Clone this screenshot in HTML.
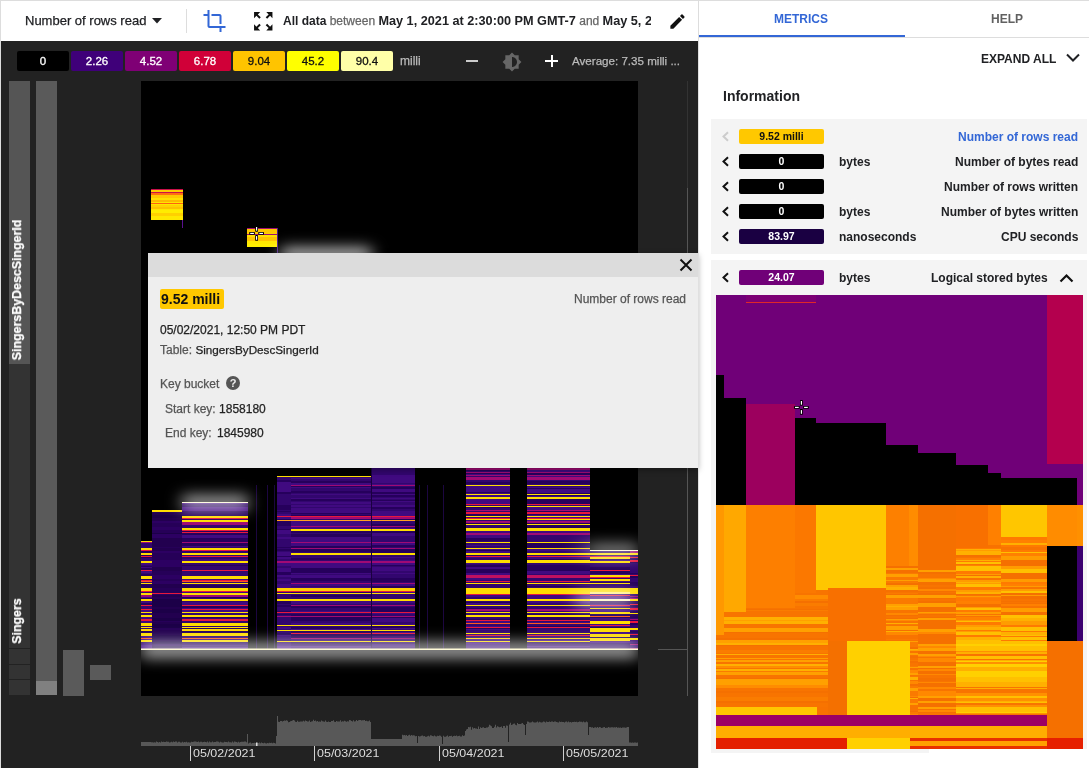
<!DOCTYPE html>
<html><head><meta charset="utf-8">
<style>
*{margin:0;padding:0;box-sizing:border-box}
html,body{width:1089px;height:768px;overflow:hidden;background:#fff;font-family:"Liberation Sans",sans-serif;position:relative}
.a{position:absolute}
.t{position:absolute;white-space:nowrap;will-change:transform;-webkit-text-stroke:0.25px currentColor}
.lg{position:absolute;will-change:transform;top:51px;height:20px;width:52px;border-radius:2px;font-size:11.5px;-webkit-text-stroke:0.3px currentColor;line-height:20px;text-align:center;color:#fff}
.bd{position:absolute;will-change:transform;left:739px;width:85px;height:15px;border-radius:2px;font-size:10.5px;font-weight:bold;line-height:15px;text-align:center;color:#fff}
b,.un,.mn{-webkit-text-stroke:0!important}
.chev{position:absolute;left:721px}
.un{position:absolute;left:839px;font-size:12px;line-height:14px;font-weight:bold;color:#202124}
.mn{position:absolute;right:11px;font-size:12px;line-height:14px;font-weight:bold;color:#202124;text-align:right}
</style></head><body>
<!-- top borders -->
<div class="a" style="left:0;top:0;width:1089px;height:1px;background:#ddd"></div>
<div class="a" style="left:0;top:0;width:1px;height:768px;background:#ddd"></div>
<div class="a" style="left:698px;top:0;width:1px;height:41px;background:#ddd"></div>
<!-- toolbar -->
<div class="t" style="left:25px;top:13px;font-size:13px;color:#202124">Number of rows read</div>
<svg class="a" style="left:152px;top:18px" width="10" height="6"><path d="M0 0H10L5 5.5Z" fill="#202124"/></svg>
<div class="a" style="left:186px;top:9px;width:1px;height:24px;background:#ddd"></div>
<svg class="a" style="left:202px;top:9px" width="25" height="24" viewBox="0 0 24 24"><path d="M17 15h2V7c0-1.1-.9-2-2-2H9v2h8v8zM7 17V1H5v4H1v2h4v10c0 1.1.9 2 2 2h10v4h2v-4h4v-2H7z" fill="#3367d6"/></svg>
<svg class="a" style="left:250.5px;top:8.8px" width="24.5" height="24.5" viewBox="0 0 24 24"><path d="M15 3l2.3 2.3-2.89 2.87 1.42 1.42L18.7 6.7 21 9V3h-6zM3 9l2.3-2.3 2.87 2.89 1.42-1.42L6.7 5.3 9 3H3v6zm6 12l-2.3-2.3 2.89-2.87-1.42-1.42L5.3 17.3 3 15v6h6zm12-6l-2.3 2.3-2.87-2.89-1.42 1.42 2.89 2.87L15 21h6v-6z" fill="#111"/></svg>
<div class="t" style="left:283px;top:14px;font-size:12px;line-height:14px;color:#202124;width:368px;overflow:hidden"><b>All data</b> <span style="color:#666">between</span> <b style="font-size:12.7px">May 1, 2021 at 2:30:00 PM GMT-7</b> <span style="color:#666">and</span> <b style="font-size:12.7px">May 5, 2021 at 2:30:00 PM GMT-7</b></div>
<svg class="a" style="left:668.3px;top:12px" width="19" height="19" viewBox="0 0 24 24"><path d="M3 17.25V21h3.75L17.81 9.94l-3.75-3.75L3 17.25zM20.71 7.04a1 1 0 000-1.41l-2.34-2.34a1 1 0 00-1.41 0l-1.83 1.83 3.75 3.75 1.83-1.83z" fill="#111"/></svg>
<!-- dark panel -->
<div class="a" style="left:1px;top:41px;width:697px;height:727px;background:#222"></div>
<!-- legend -->
<div class="lg" style="left:17px;background:#000">0</div>
<div class="lg" style="left:71px;background:#3f0079">2.26</div>
<div class="lg" style="left:125px;background:#7f0075">4.52</div>
<div class="lg" style="left:179px;background:#d00038">6.78</div>
<div class="lg" style="left:233px;background:#ffc400;color:#111">9.04</div>
<div class="lg" style="left:287px;background:#ffff00;color:#111">45.2</div>
<div class="lg" style="left:341px;background:#ffffa8;color:#111">90.4</div>
<div class="t" style="left:400px;top:54px;font-size:12px;color:#bbb">milli</div>
<div class="a" style="left:466px;top:60px;width:12px;height:2px;background:#ccc"></div>
<svg class="a" style="left:502px;top:52px" width="20" height="20" viewBox="0 0 24 24"><path d="M20 8.69V4h-4.69L12 .69 8.69 4H4v4.69L.69 12 4 15.31V20h4.69L12 23.31 15.31 20H20v-4.69L23.31 12 20 8.69zM12 18V6c3.31 0 6 2.69 6 6s-2.69 6-6 6z" fill="#666"/></svg>
<div class="a" style="left:545px;top:60px;width:13px;height:2px;background:#fff"></div>
<div class="a" style="left:551px;top:55px;width:2px;height:12px;background:#fff"></div>
<div class="t" style="left:572px;top:54px;font-size:11.6px;color:#bbb">Average: 7.35 milli ...</div>
<!-- gutter -->
<div class="a" style="left:9px;top:81px;width:21px;height:283px;background:#555"></div>
<div class="a" style="left:9px;top:364px;width:21px;height:284px;background:#333"></div>
<div class="a" style="left:9px;top:649px;width:21px;height:15px;background:#333"></div>
<div class="a" style="left:9px;top:665px;width:21px;height:14px;background:#333"></div>
<div class="a" style="left:9px;top:680px;width:21px;height:15px;background:#333"></div>
<div class="a" style="left:36px;top:81px;width:21px;height:600px;background:#5a5a5a"></div>
<div class="a" style="left:36px;top:681px;width:21px;height:14px;background:#808080"></div>
<div class="a" style="left:63px;top:650px;width:21px;height:46px;background:#5a5a5a"></div>
<div class="a" style="left:90px;top:665px;width:21px;height:15px;background:#5a5a5a"></div>
<div class="t" style="left:17px;top:289.7px;font-size:12.4px;font-weight:bold;color:#fff;transform:translate(-50%,-50%) rotate(-90deg)">SingersByDescSingerId</div>
<div class="t" style="left:17px;top:620.5px;font-size:12.4px;font-weight:bold;color:#fff;transform:translate(-50%,-50%) rotate(-90deg)">Singers</div>
<!-- heatmap -->
<svg class="a" style="left:141px;top:81px" width="497" height="615" viewBox="141 81 497 615">
<defs>
<filter id="bl" x="-50%" y="-300%" width="200%" height="700%"><feGaussianBlur stdDeviation="8"/></filter>
<radialGradient id="g1"><stop offset="0" stop-color="#fff" stop-opacity=".75"/><stop offset=".5" stop-color="#fff" stop-opacity=".35"/><stop offset="1" stop-color="#fff" stop-opacity="0"/></radialGradient>
<linearGradient id="gb" x1="0" y1="0" x2="0" y2="1"><stop offset="0" stop-color="#fff" stop-opacity=".6"/><stop offset=".35" stop-color="#fff" stop-opacity=".3"/><stop offset="1" stop-color="#fff" stop-opacity="0"/></linearGradient>
<linearGradient id="ga" x1="0" y1="0" x2="0" y2="1"><stop offset="0" stop-color="#fff" stop-opacity="0"/><stop offset="1" stop-color="#fff" stop-opacity=".55"/></linearGradient>
</defs>
<rect x="141" y="81" width="497" height="615" fill="#000"/>
<g shape-rendering="crispEdges"><rect x="151" y="189" width="32" height="31" fill="#ffe400"/>
<rect x="151" y="189" width="32" height="1" fill="#c8104a"/>
<rect x="151" y="190" width="32" height="2" fill="#ffcc00"/>
<rect x="151" y="192" width="32" height="1" fill="#c8104a"/>
<rect x="151" y="193" width="32" height="2" fill="#ff7010"/>
<rect x="151" y="195" width="32" height="3" fill="#ffc800"/>
<rect x="151" y="198" width="32" height="2" fill="#ffe000"/>
<rect x="151" y="200" width="32" height="2" fill="#ffb800"/>
<rect x="151" y="203" width="32" height="1" fill="#ff6010"/>
<rect x="151" y="205" width="32" height="2" fill="#ffd000"/>
<rect x="151" y="207" width="32" height="2" fill="#ffc000"/>
<rect x="151" y="210" width="32" height="3" fill="#ffec00"/>
<rect x="151" y="213" width="32" height="3" fill="#ffd000"/>
<rect x="151" y="216" width="32" height="4" fill="#ffe800"/>
<rect x="182" y="220" width="1" height="8" fill="#5a1090"/>
<rect x="247" y="228" width="31" height="19" fill="#ffd000"/>
<rect x="247" y="228" width="31" height="1" fill="#a01070"/>
<rect x="247" y="229" width="31" height="4" fill="#ffc800"/>
<rect x="247" y="234" width="31" height="1" fill="#a01070"/>
<rect x="247" y="235" width="31" height="2" fill="#ffe000"/>
<rect x="247" y="237" width="31" height="4" fill="#ffc400"/>
<rect x="247" y="241" width="31" height="3" fill="#ffe800"/>
<rect x="247" y="244" width="31" height="3" fill="#ffee00"/>
<rect x="277" y="228" width="0.8" height="25" fill="#4a1a8a"/>
<rect x="141" y="541" width="11" height="1" fill="#400a80"/>
<rect x="141" y="542" width="11" height="1" fill="#32066e"/>
<rect x="141" y="543" width="11" height="1" fill="#32066e"/>
<rect x="141" y="544" width="11" height="2" fill="#32066e"/>
<rect x="141" y="546" width="11" height="4" fill="#32066e"/>
<rect x="141" y="550" width="11" height="1" fill="#26005c"/>
<rect x="141" y="551" width="11" height="2" fill="#26005c"/>
<rect x="141" y="553" width="11" height="2" fill="#32066e"/>
<rect x="141" y="555" width="11" height="3" fill="#26005c"/>
<rect x="141" y="558" width="11" height="4" fill="#32066e"/>
<rect x="141" y="562" width="11" height="2" fill="#400a80"/>
<rect x="141" y="564" width="11" height="1" fill="#400a80"/>
<rect x="141" y="565" width="11" height="1" fill="#32066e"/>
<rect x="141" y="566" width="11" height="1" fill="#26005c"/>
<rect x="141" y="567" width="11" height="1" fill="#400a80"/>
<rect x="141" y="568" width="11" height="3" fill="#26005c"/>
<rect x="141" y="571" width="11" height="2" fill="#400a80"/>
<rect x="141" y="573" width="11" height="1" fill="#32066e"/>
<rect x="141" y="574" width="11" height="4" fill="#26005c"/>
<rect x="141" y="578" width="11" height="3" fill="#26005c"/>
<rect x="141" y="581" width="11" height="2" fill="#32066e"/>
<rect x="141" y="583" width="11" height="3" fill="#26005c"/>
<rect x="141" y="586" width="11" height="2" fill="#26005c"/>
<rect x="141" y="588" width="11" height="4" fill="#26005c"/>
<rect x="141" y="592" width="11" height="2" fill="#32066e"/>
<rect x="141" y="594" width="11" height="1" fill="#32066e"/>
<rect x="141" y="595" width="11" height="3" fill="#400a80"/>
<rect x="141" y="598" width="11" height="1" fill="#26005c"/>
<rect x="141" y="599" width="11" height="4" fill="#400a80"/>
<rect x="141" y="603" width="11" height="2" fill="#26005c"/>
<rect x="141" y="605" width="11" height="4" fill="#32066e"/>
<rect x="141" y="609" width="11" height="4" fill="#400a80"/>
<rect x="141" y="613" width="11" height="3" fill="#32066e"/>
<rect x="141" y="616" width="11" height="3" fill="#400a80"/>
<rect x="141" y="619" width="11" height="1" fill="#32066e"/>
<rect x="141" y="620" width="11" height="2" fill="#400a80"/>
<rect x="141" y="622" width="11" height="2" fill="#400a80"/>
<rect x="141" y="624" width="11" height="2" fill="#400a80"/>
<rect x="141" y="626" width="11" height="1" fill="#32066e"/>
<rect x="141" y="627" width="11" height="1" fill="#400a80"/>
<rect x="141" y="628" width="11" height="2" fill="#32066e"/>
<rect x="141" y="630" width="11" height="4" fill="#26005c"/>
<rect x="141" y="634" width="11" height="2" fill="#400a80"/>
<rect x="141" y="636" width="11" height="4" fill="#400a80"/>
<rect x="141" y="640" width="11" height="4" fill="#32066e"/>
<rect x="141" y="644" width="11" height="1" fill="#32066e"/>
<rect x="141" y="645" width="11" height="4" fill="#400a80"/>
<rect x="141" y="541" width="11" height="1" fill="#ffdd00"/>
<rect x="141" y="542" width="11" height="1" fill="#a00a74"/>
<rect x="141" y="548" width="11" height="1.5" fill="#ffdd00"/>
<rect x="141" y="549.5" width="11" height="1" fill="#e8183c"/>
<rect x="141" y="553" width="11" height="2" fill="#ffdd00"/>
<rect x="141" y="556" width="11" height="1" fill="#e8183c"/>
<rect x="141" y="561" width="11" height="2" fill="#ffdd00"/>
<rect x="141" y="570" width="11" height="1" fill="#e8183c"/>
<rect x="141" y="576" width="11" height="2.5" fill="#ffdd00"/>
<rect x="141" y="579.5" width="11" height="1" fill="#e8183c"/>
<rect x="141" y="581" width="11" height="1" fill="#ff5a1a"/>
<rect x="141" y="583" width="11" height="1" fill="#ffdd00"/>
<rect x="141" y="588" width="11" height="3" fill="#ffdd00"/>
<rect x="141" y="591" width="11" height="1" fill="#e8183c"/>
<rect x="141" y="593" width="11" height="2" fill="#ffdd00"/>
<rect x="141" y="595" width="11" height="2" fill="#a00a74"/>
<rect x="141" y="599" width="11" height="2" fill="#ffdd00"/>
<rect x="141" y="604.5" width="11" height="1.5" fill="#e8183c"/>
<rect x="141" y="609" width="11" height="1" fill="#e8183c"/>
<rect x="141" y="612" width="11" height="1" fill="#ffdd00"/>
<rect x="141" y="615" width="11" height="2" fill="#ffdd00"/>
<rect x="141" y="619" width="11" height="2" fill="#e8183c"/>
<rect x="141" y="623" width="11" height="3" fill="#ffdd00"/>
<rect x="141" y="627" width="11" height="1" fill="#ffdd00"/>
<rect x="141" y="629" width="11" height="1.5" fill="#ffdd00"/>
<rect x="141" y="633" width="11" height="3" fill="#ffdd00"/>
<rect x="141" y="638" width="11" height="1" fill="#ff5a1a"/>
<rect x="141" y="640" width="11" height="2" fill="#ffdd00"/>
<rect x="152" y="510" width="30" height="1" fill="#1c0048"/>
<rect x="152" y="511" width="30" height="1" fill="#260058"/>
<rect x="152" y="512" width="30" height="1" fill="#260058"/>
<rect x="152" y="513" width="30" height="2" fill="#22004f"/>
<rect x="152" y="515" width="30" height="3" fill="#1c0048"/>
<rect x="152" y="518" width="30" height="3" fill="#22004f"/>
<rect x="152" y="521" width="30" height="2" fill="#2c0062"/>
<rect x="152" y="523" width="30" height="4" fill="#260058"/>
<rect x="152" y="527" width="30" height="3" fill="#2c0062"/>
<rect x="152" y="530" width="30" height="3" fill="#260058"/>
<rect x="152" y="533" width="30" height="1" fill="#1c0048"/>
<rect x="152" y="534" width="30" height="2" fill="#2c0062"/>
<rect x="152" y="536" width="30" height="2" fill="#2c0062"/>
<rect x="152" y="538" width="30" height="2" fill="#22004f"/>
<rect x="152" y="540" width="30" height="3" fill="#22004f"/>
<rect x="152" y="543" width="30" height="1" fill="#22004f"/>
<rect x="152" y="544" width="30" height="1" fill="#22004f"/>
<rect x="152" y="545" width="30" height="2" fill="#22004f"/>
<rect x="152" y="547" width="30" height="1" fill="#260058"/>
<rect x="152" y="548" width="30" height="3" fill="#22004f"/>
<rect x="152" y="551" width="30" height="2" fill="#2c0062"/>
<rect x="152" y="553" width="30" height="4" fill="#260058"/>
<rect x="152" y="557" width="30" height="3" fill="#260058"/>
<rect x="152" y="560" width="30" height="2" fill="#2c0062"/>
<rect x="152" y="562" width="30" height="1" fill="#2c0062"/>
<rect x="152" y="563" width="30" height="4" fill="#2c0062"/>
<rect x="152" y="567" width="30" height="4" fill="#22004f"/>
<rect x="152" y="571" width="30" height="2" fill="#260058"/>
<rect x="152" y="573" width="30" height="2" fill="#260058"/>
<rect x="152" y="575" width="30" height="4" fill="#2c0062"/>
<rect x="152" y="579" width="30" height="2" fill="#260058"/>
<rect x="152" y="581" width="30" height="3" fill="#2c0062"/>
<rect x="152" y="584" width="30" height="2" fill="#22004f"/>
<rect x="152" y="586" width="30" height="2" fill="#22004f"/>
<rect x="152" y="588" width="30" height="3" fill="#260058"/>
<rect x="152" y="591" width="30" height="2" fill="#260058"/>
<rect x="152" y="593" width="30" height="2" fill="#2c0062"/>
<rect x="152" y="595" width="30" height="2" fill="#22004f"/>
<rect x="152" y="597" width="30" height="2" fill="#260058"/>
<rect x="152" y="599" width="30" height="4" fill="#1c0048"/>
<rect x="152" y="603" width="30" height="2" fill="#1c0048"/>
<rect x="152" y="605" width="30" height="1" fill="#1c0048"/>
<rect x="152" y="606" width="30" height="1" fill="#1c0048"/>
<rect x="152" y="607" width="30" height="2" fill="#22004f"/>
<rect x="152" y="609" width="30" height="4" fill="#1c0048"/>
<rect x="152" y="613" width="30" height="3" fill="#22004f"/>
<rect x="152" y="616" width="30" height="2" fill="#22004f"/>
<rect x="152" y="618" width="30" height="1" fill="#1c0048"/>
<rect x="152" y="619" width="30" height="2" fill="#1c0048"/>
<rect x="152" y="621" width="30" height="1" fill="#260058"/>
<rect x="152" y="622" width="30" height="2" fill="#22004f"/>
<rect x="152" y="624" width="30" height="1" fill="#1c0048"/>
<rect x="152" y="625" width="30" height="1" fill="#1c0048"/>
<rect x="152" y="626" width="30" height="1" fill="#1c0048"/>
<rect x="152" y="627" width="30" height="1" fill="#1c0048"/>
<rect x="152" y="628" width="30" height="2" fill="#260058"/>
<rect x="152" y="630" width="30" height="1" fill="#22004f"/>
<rect x="152" y="631" width="30" height="4" fill="#22004f"/>
<rect x="152" y="635" width="30" height="3" fill="#1c0048"/>
<rect x="152" y="638" width="30" height="2" fill="#1c0048"/>
<rect x="152" y="640" width="30" height="1" fill="#22004f"/>
<rect x="152" y="641" width="30" height="1" fill="#1c0048"/>
<rect x="152" y="642" width="30" height="2" fill="#1c0048"/>
<rect x="152" y="644" width="30" height="2" fill="#260058"/>
<rect x="152" y="646" width="30" height="2" fill="#1c0048"/>
<rect x="152" y="648" width="30" height="1" fill="#2c0062"/>
<rect x="152" y="510" width="30" height="2" fill="#ffdd00"/>
<rect x="152" y="593" width="30" height="1" fill="#e8183c"/>
<rect x="182" y="503" width="66" height="1" fill="#400a80"/>
<rect x="182" y="504" width="66" height="3" fill="#26005c"/>
<rect x="182" y="507" width="66" height="2" fill="#400a80"/>
<rect x="182" y="509" width="66" height="2" fill="#400a80"/>
<rect x="182" y="511" width="66" height="3" fill="#26005c"/>
<rect x="182" y="514" width="66" height="3" fill="#26005c"/>
<rect x="182" y="517" width="66" height="2" fill="#32066e"/>
<rect x="182" y="519" width="66" height="3" fill="#26005c"/>
<rect x="182" y="522" width="66" height="1" fill="#400a80"/>
<rect x="182" y="523" width="66" height="2" fill="#400a80"/>
<rect x="182" y="525" width="66" height="3" fill="#32066e"/>
<rect x="182" y="528" width="66" height="2" fill="#400a80"/>
<rect x="182" y="530" width="66" height="1" fill="#26005c"/>
<rect x="182" y="531" width="66" height="4" fill="#26005c"/>
<rect x="182" y="535" width="66" height="3" fill="#32066e"/>
<rect x="182" y="538" width="66" height="4" fill="#26005c"/>
<rect x="182" y="542" width="66" height="4" fill="#26005c"/>
<rect x="182" y="546" width="66" height="1" fill="#400a80"/>
<rect x="182" y="547" width="66" height="1" fill="#32066e"/>
<rect x="182" y="548" width="66" height="1" fill="#32066e"/>
<rect x="182" y="549" width="66" height="2" fill="#400a80"/>
<rect x="182" y="551" width="66" height="4" fill="#32066e"/>
<rect x="182" y="555" width="66" height="4" fill="#32066e"/>
<rect x="182" y="559" width="66" height="2" fill="#400a80"/>
<rect x="182" y="561" width="66" height="3" fill="#32066e"/>
<rect x="182" y="564" width="66" height="1" fill="#32066e"/>
<rect x="182" y="565" width="66" height="1" fill="#26005c"/>
<rect x="182" y="566" width="66" height="1" fill="#32066e"/>
<rect x="182" y="567" width="66" height="1" fill="#32066e"/>
<rect x="182" y="568" width="66" height="4" fill="#32066e"/>
<rect x="182" y="572" width="66" height="4" fill="#32066e"/>
<rect x="182" y="576" width="66" height="2" fill="#400a80"/>
<rect x="182" y="578" width="66" height="2" fill="#400a80"/>
<rect x="182" y="580" width="66" height="2" fill="#400a80"/>
<rect x="182" y="582" width="66" height="3" fill="#32066e"/>
<rect x="182" y="585" width="66" height="3" fill="#26005c"/>
<rect x="182" y="588" width="66" height="2" fill="#400a80"/>
<rect x="182" y="590" width="66" height="1" fill="#32066e"/>
<rect x="182" y="591" width="66" height="3" fill="#400a80"/>
<rect x="182" y="594" width="66" height="4" fill="#26005c"/>
<rect x="182" y="598" width="66" height="4" fill="#32066e"/>
<rect x="182" y="602" width="66" height="3" fill="#400a80"/>
<rect x="182" y="605" width="66" height="3" fill="#26005c"/>
<rect x="182" y="608" width="66" height="4" fill="#400a80"/>
<rect x="182" y="612" width="66" height="1" fill="#400a80"/>
<rect x="182" y="613" width="66" height="3" fill="#32066e"/>
<rect x="182" y="616" width="66" height="2" fill="#26005c"/>
<rect x="182" y="618" width="66" height="1" fill="#32066e"/>
<rect x="182" y="619" width="66" height="4" fill="#32066e"/>
<rect x="182" y="623" width="66" height="1" fill="#32066e"/>
<rect x="182" y="624" width="66" height="1" fill="#32066e"/>
<rect x="182" y="625" width="66" height="1" fill="#26005c"/>
<rect x="182" y="626" width="66" height="2" fill="#32066e"/>
<rect x="182" y="628" width="66" height="2" fill="#26005c"/>
<rect x="182" y="630" width="66" height="1" fill="#400a80"/>
<rect x="182" y="631" width="66" height="3" fill="#26005c"/>
<rect x="182" y="634" width="66" height="2" fill="#400a80"/>
<rect x="182" y="636" width="66" height="3" fill="#32066e"/>
<rect x="182" y="639" width="66" height="3" fill="#32066e"/>
<rect x="182" y="642" width="66" height="3" fill="#26005c"/>
<rect x="182" y="645" width="66" height="1" fill="#32066e"/>
<rect x="182" y="646" width="66" height="1" fill="#26005c"/>
<rect x="182" y="647" width="66" height="1" fill="#400a80"/>
<rect x="182" y="648" width="66" height="1" fill="#26005c"/>
<rect x="182" y="516" width="66" height="1.5" fill="#ffdd00"/>
<rect x="182" y="518" width="66" height="1" fill="#e8183c"/>
<rect x="182" y="520" width="66" height="1.5" fill="#ffdd00"/>
<rect x="182" y="522" width="66" height="3" fill="#a00a74"/>
<rect x="182" y="528" width="66" height="1.5" fill="#ffdd00"/>
<rect x="182" y="529.5" width="66" height="1" fill="#e8183c"/>
<rect x="182" y="532" width="66" height="1" fill="#e8183c"/>
<rect x="182" y="535" width="66" height="3" fill="#400a80"/>
<rect x="182" y="542" width="66" height="1" fill="#a00a74"/>
<rect x="182" y="548" width="66" height="1.5" fill="#ffdd00"/>
<rect x="182" y="549.5" width="66" height="1" fill="#e8183c"/>
<rect x="182" y="553" width="66" height="2" fill="#ffdd00"/>
<rect x="182" y="556" width="66" height="1" fill="#e8183c"/>
<rect x="182" y="561" width="66" height="2" fill="#ffdd00"/>
<rect x="182" y="570" width="66" height="1" fill="#e8183c"/>
<rect x="182" y="576" width="66" height="2.5" fill="#ffdd00"/>
<rect x="182" y="579.5" width="66" height="1" fill="#e8183c"/>
<rect x="182" y="581" width="66" height="1" fill="#ff5a1a"/>
<rect x="182" y="583" width="66" height="1" fill="#ffdd00"/>
<rect x="182" y="588" width="66" height="3" fill="#ffdd00"/>
<rect x="182" y="591" width="66" height="1" fill="#e8183c"/>
<rect x="182" y="593" width="66" height="2" fill="#ffdd00"/>
<rect x="182" y="595" width="66" height="2" fill="#a00a74"/>
<rect x="182" y="599" width="66" height="2" fill="#ffdd00"/>
<rect x="182" y="604.5" width="66" height="1.5" fill="#e8183c"/>
<rect x="182" y="609" width="66" height="1" fill="#e8183c"/>
<rect x="182" y="612" width="66" height="1" fill="#ffdd00"/>
<rect x="182" y="615" width="66" height="2" fill="#ffdd00"/>
<rect x="182" y="619" width="66" height="2" fill="#e8183c"/>
<rect x="182" y="623" width="66" height="3" fill="#ffdd00"/>
<rect x="182" y="627" width="66" height="1" fill="#ffdd00"/>
<rect x="182" y="629" width="66" height="1.5" fill="#ffdd00"/>
<rect x="182" y="633" width="66" height="3" fill="#ffdd00"/>
<rect x="182" y="638" width="66" height="1" fill="#ff5a1a"/>
<rect x="182" y="640" width="66" height="2" fill="#ffdd00"/>
<rect x="182" y="502" width="66" height="1" fill="#fffbd0"/>
<rect x="277" y="477" width="94" height="1" fill="#32066e"/>
<rect x="277" y="478" width="94" height="1" fill="#400a80"/>
<rect x="277" y="479" width="94" height="2" fill="#32066e"/>
<rect x="277" y="481" width="94" height="1" fill="#26005c"/>
<rect x="277" y="482" width="94" height="1" fill="#26005c"/>
<rect x="277" y="483" width="94" height="2" fill="#400a80"/>
<rect x="277" y="485" width="94" height="2" fill="#26005c"/>
<rect x="277" y="487" width="94" height="1" fill="#400a80"/>
<rect x="277" y="488" width="94" height="3" fill="#32066e"/>
<rect x="277" y="491" width="94" height="2" fill="#26005c"/>
<rect x="277" y="493" width="94" height="1" fill="#32066e"/>
<rect x="277" y="494" width="94" height="1" fill="#26005c"/>
<rect x="277" y="495" width="94" height="4" fill="#32066e"/>
<rect x="277" y="499" width="94" height="2" fill="#26005c"/>
<rect x="277" y="501" width="94" height="1" fill="#32066e"/>
<rect x="277" y="502" width="94" height="2" fill="#400a80"/>
<rect x="277" y="504" width="94" height="4" fill="#32066e"/>
<rect x="277" y="508" width="94" height="1" fill="#400a80"/>
<rect x="277" y="509" width="94" height="2" fill="#400a80"/>
<rect x="277" y="511" width="94" height="2" fill="#400a80"/>
<rect x="277" y="513" width="94" height="1" fill="#26005c"/>
<rect x="277" y="514" width="94" height="1" fill="#32066e"/>
<rect x="277" y="515" width="94" height="2" fill="#26005c"/>
<rect x="277" y="517" width="94" height="3" fill="#32066e"/>
<rect x="277" y="520" width="94" height="1" fill="#32066e"/>
<rect x="277" y="521" width="94" height="3" fill="#400a80"/>
<rect x="277" y="524" width="94" height="2" fill="#400a80"/>
<rect x="277" y="526" width="94" height="1" fill="#32066e"/>
<rect x="277" y="527" width="94" height="2" fill="#400a80"/>
<rect x="277" y="529" width="94" height="2" fill="#32066e"/>
<rect x="277" y="531" width="94" height="2" fill="#26005c"/>
<rect x="277" y="533" width="94" height="1" fill="#32066e"/>
<rect x="277" y="534" width="94" height="2" fill="#26005c"/>
<rect x="277" y="536" width="94" height="1" fill="#26005c"/>
<rect x="277" y="537" width="94" height="2" fill="#400a80"/>
<rect x="277" y="539" width="94" height="2" fill="#400a80"/>
<rect x="277" y="541" width="94" height="3" fill="#400a80"/>
<rect x="277" y="544" width="94" height="2" fill="#400a80"/>
<rect x="277" y="546" width="94" height="2" fill="#26005c"/>
<rect x="277" y="548" width="94" height="4" fill="#26005c"/>
<rect x="277" y="552" width="94" height="1" fill="#32066e"/>
<rect x="277" y="553" width="94" height="1" fill="#400a80"/>
<rect x="277" y="554" width="94" height="4" fill="#32066e"/>
<rect x="277" y="558" width="94" height="2" fill="#26005c"/>
<rect x="277" y="560" width="94" height="2" fill="#32066e"/>
<rect x="277" y="562" width="94" height="4" fill="#400a80"/>
<rect x="277" y="566" width="94" height="2" fill="#400a80"/>
<rect x="277" y="568" width="94" height="3" fill="#26005c"/>
<rect x="277" y="571" width="94" height="2" fill="#26005c"/>
<rect x="277" y="573" width="94" height="1" fill="#400a80"/>
<rect x="277" y="574" width="94" height="1" fill="#32066e"/>
<rect x="277" y="575" width="94" height="3" fill="#400a80"/>
<rect x="277" y="578" width="94" height="1" fill="#26005c"/>
<rect x="277" y="579" width="94" height="2" fill="#26005c"/>
<rect x="277" y="581" width="94" height="2" fill="#32066e"/>
<rect x="277" y="583" width="94" height="1" fill="#26005c"/>
<rect x="277" y="584" width="94" height="2" fill="#400a80"/>
<rect x="277" y="586" width="94" height="1" fill="#32066e"/>
<rect x="277" y="587" width="94" height="4" fill="#400a80"/>
<rect x="277" y="591" width="94" height="2" fill="#26005c"/>
<rect x="277" y="593" width="94" height="2" fill="#32066e"/>
<rect x="277" y="595" width="94" height="2" fill="#26005c"/>
<rect x="277" y="597" width="94" height="4" fill="#32066e"/>
<rect x="277" y="601" width="94" height="3" fill="#400a80"/>
<rect x="277" y="604" width="94" height="1" fill="#32066e"/>
<rect x="277" y="605" width="94" height="3" fill="#26005c"/>
<rect x="277" y="608" width="94" height="2" fill="#32066e"/>
<rect x="277" y="610" width="94" height="1" fill="#32066e"/>
<rect x="277" y="611" width="94" height="2" fill="#400a80"/>
<rect x="277" y="613" width="94" height="1" fill="#32066e"/>
<rect x="277" y="614" width="94" height="3" fill="#26005c"/>
<rect x="277" y="617" width="94" height="2" fill="#26005c"/>
<rect x="277" y="619" width="94" height="2" fill="#26005c"/>
<rect x="277" y="621" width="94" height="2" fill="#32066e"/>
<rect x="277" y="623" width="94" height="2" fill="#400a80"/>
<rect x="277" y="625" width="94" height="1" fill="#32066e"/>
<rect x="277" y="626" width="94" height="1" fill="#32066e"/>
<rect x="277" y="627" width="94" height="1" fill="#26005c"/>
<rect x="277" y="628" width="94" height="1" fill="#26005c"/>
<rect x="277" y="629" width="94" height="1" fill="#400a80"/>
<rect x="277" y="630" width="94" height="1" fill="#400a80"/>
<rect x="277" y="631" width="94" height="4" fill="#26005c"/>
<rect x="277" y="635" width="94" height="3" fill="#26005c"/>
<rect x="277" y="638" width="94" height="3" fill="#32066e"/>
<rect x="277" y="641" width="94" height="3" fill="#26005c"/>
<rect x="277" y="644" width="94" height="2" fill="#26005c"/>
<rect x="277" y="646" width="94" height="1" fill="#400a80"/>
<rect x="277" y="647" width="94" height="2" fill="#32066e"/>
<rect x="277" y="485" width="94" height="1" fill="#a00a74"/>
<rect x="277" y="494" width="94" height="1" fill="#400a80"/>
<rect x="277" y="498" width="94" height="1" fill="#400a80"/>
<rect x="277" y="505" width="94" height="2" fill="#400a80"/>
<rect x="277" y="516" width="94" height="1" fill="#e8183c"/>
<rect x="277" y="517" width="94" height="2" fill="#a00a74"/>
<rect x="277" y="520" width="94" height="1" fill="#ffa020"/>
<rect x="277" y="526" width="94" height="1" fill="#a00a74"/>
<rect x="277" y="529" width="94" height="2" fill="#ffdd00"/>
<rect x="277" y="542" width="94" height="1" fill="#a00a74"/>
<rect x="277" y="548" width="94" height="1" fill="#a00a74"/>
<rect x="277" y="553" width="94" height="2" fill="#ffdd00"/>
<rect x="277" y="560.5" width="94" height="2" fill="#a00a74"/>
<rect x="277" y="583" width="94" height="1" fill="#a00a74"/>
<rect x="277" y="588" width="94" height="3" fill="#ffd000"/>
<rect x="277" y="591" width="94" height="1" fill="#e8183c"/>
<rect x="277" y="593" width="94" height="1" fill="#ffdd00"/>
<rect x="277" y="599" width="94" height="2" fill="#ffdd00"/>
<rect x="277" y="605" width="94" height="1" fill="#a00a74"/>
<rect x="277" y="612" width="94" height="1" fill="#e8183c"/>
<rect x="277" y="615.5" width="94" height="1.5" fill="#a00a74"/>
<rect x="277" y="625" width="94" height="1" fill="#ffdd00"/>
<rect x="277" y="630" width="94" height="1" fill="#ffdd00"/>
<rect x="277" y="633" width="94" height="1" fill="#e8183c"/>
<rect x="277" y="638" width="94" height="1" fill="#a00a74"/>
<rect x="277" y="641" width="94" height="1" fill="#ffdd00"/>
<rect x="277" y="477" width="14" height="1" fill="#32066e"/>
<rect x="277" y="478" width="14" height="2" fill="#32066e"/>
<rect x="277" y="480" width="14" height="2" fill="#26005c"/>
<rect x="277" y="482" width="14" height="4" fill="#400a80"/>
<rect x="277" y="486" width="14" height="2" fill="#400a80"/>
<rect x="277" y="488" width="14" height="4" fill="#400a80"/>
<rect x="277" y="492" width="14" height="2" fill="#26005c"/>
<rect x="277" y="494" width="14" height="2" fill="#32066e"/>
<rect x="277" y="496" width="14" height="2" fill="#32066e"/>
<rect x="277" y="498" width="14" height="2" fill="#32066e"/>
<rect x="277" y="500" width="14" height="4" fill="#32066e"/>
<rect x="277" y="504" width="14" height="1" fill="#32066e"/>
<rect x="277" y="505" width="14" height="1" fill="#26005c"/>
<rect x="277" y="506" width="14" height="4" fill="#26005c"/>
<rect x="277" y="510" width="14" height="1" fill="#32066e"/>
<rect x="277" y="511" width="14" height="1" fill="#26005c"/>
<rect x="277" y="512" width="14" height="2" fill="#32066e"/>
<rect x="277" y="514" width="14" height="2" fill="#400a80"/>
<rect x="277" y="516" width="14" height="3" fill="#400a80"/>
<rect x="277" y="519" width="14" height="3" fill="#26005c"/>
<rect x="277" y="522" width="14" height="4" fill="#26005c"/>
<rect x="277" y="526" width="14" height="3" fill="#32066e"/>
<rect x="277" y="529" width="14" height="1" fill="#26005c"/>
<rect x="277" y="530" width="14" height="4" fill="#400a80"/>
<rect x="277" y="534" width="14" height="3" fill="#32066e"/>
<rect x="277" y="537" width="14" height="2" fill="#400a80"/>
<rect x="277" y="539" width="14" height="3" fill="#32066e"/>
<rect x="277" y="542" width="14" height="2" fill="#32066e"/>
<rect x="277" y="544" width="14" height="3" fill="#32066e"/>
<rect x="277" y="547" width="14" height="1" fill="#26005c"/>
<rect x="277" y="548" width="14" height="1" fill="#32066e"/>
<rect x="277" y="549" width="14" height="2" fill="#26005c"/>
<rect x="277" y="551" width="14" height="1" fill="#32066e"/>
<rect x="277" y="552" width="14" height="4" fill="#400a80"/>
<rect x="277" y="556" width="14" height="1" fill="#26005c"/>
<rect x="277" y="557" width="14" height="2" fill="#400a80"/>
<rect x="277" y="559" width="14" height="4" fill="#32066e"/>
<rect x="277" y="563" width="14" height="3" fill="#400a80"/>
<rect x="277" y="566" width="14" height="2" fill="#32066e"/>
<rect x="277" y="568" width="14" height="2" fill="#400a80"/>
<rect x="277" y="570" width="14" height="2" fill="#400a80"/>
<rect x="277" y="572" width="14" height="3" fill="#26005c"/>
<rect x="277" y="575" width="14" height="2" fill="#400a80"/>
<rect x="277" y="577" width="14" height="2" fill="#32066e"/>
<rect x="277" y="579" width="14" height="2" fill="#400a80"/>
<rect x="277" y="581" width="14" height="1" fill="#32066e"/>
<rect x="277" y="582" width="14" height="2" fill="#32066e"/>
<rect x="277" y="584" width="14" height="3" fill="#400a80"/>
<rect x="277" y="587" width="14" height="1" fill="#400a80"/>
<rect x="277" y="588" width="14" height="2" fill="#26005c"/>
<rect x="277" y="590" width="14" height="2" fill="#32066e"/>
<rect x="277" y="592" width="14" height="2" fill="#32066e"/>
<rect x="277" y="594" width="14" height="2" fill="#32066e"/>
<rect x="277" y="596" width="14" height="3" fill="#32066e"/>
<rect x="277" y="599" width="14" height="1" fill="#400a80"/>
<rect x="277" y="600" width="14" height="2" fill="#26005c"/>
<rect x="277" y="602" width="14" height="2" fill="#26005c"/>
<rect x="277" y="604" width="14" height="1" fill="#32066e"/>
<rect x="277" y="605" width="14" height="2" fill="#26005c"/>
<rect x="277" y="607" width="14" height="1" fill="#32066e"/>
<rect x="277" y="608" width="14" height="3" fill="#32066e"/>
<rect x="277" y="611" width="14" height="2" fill="#26005c"/>
<rect x="277" y="613" width="14" height="1" fill="#32066e"/>
<rect x="277" y="614" width="14" height="1" fill="#26005c"/>
<rect x="277" y="615" width="14" height="1" fill="#32066e"/>
<rect x="277" y="616" width="14" height="3" fill="#32066e"/>
<rect x="277" y="619" width="14" height="1" fill="#32066e"/>
<rect x="277" y="620" width="14" height="1" fill="#32066e"/>
<rect x="277" y="621" width="14" height="2" fill="#32066e"/>
<rect x="277" y="623" width="14" height="1" fill="#32066e"/>
<rect x="277" y="624" width="14" height="3" fill="#32066e"/>
<rect x="277" y="627" width="14" height="2" fill="#400a80"/>
<rect x="277" y="629" width="14" height="2" fill="#32066e"/>
<rect x="277" y="631" width="14" height="2" fill="#32066e"/>
<rect x="277" y="633" width="14" height="2" fill="#26005c"/>
<rect x="277" y="635" width="14" height="1" fill="#400a80"/>
<rect x="277" y="636" width="14" height="2" fill="#32066e"/>
<rect x="277" y="638" width="14" height="1" fill="#32066e"/>
<rect x="277" y="639" width="14" height="1" fill="#32066e"/>
<rect x="277" y="640" width="14" height="1" fill="#26005c"/>
<rect x="277" y="641" width="14" height="4" fill="#32066e"/>
<rect x="277" y="645" width="14" height="1" fill="#32066e"/>
<rect x="277" y="646" width="14" height="2" fill="#400a80"/>
<rect x="277" y="648" width="14" height="1" fill="#400a80"/>
<rect x="277" y="476" width="94" height="1" fill="#ffe000"/>
<rect x="291" y="529" width="80" height="2" fill="#ffdd00"/>
<rect x="291" y="553" width="80" height="2" fill="#ffdd00"/>
<rect x="291" y="588" width="80" height="3" fill="#ffd000"/>
<rect x="291" y="593" width="80" height="1" fill="#ffdd00"/>
<rect x="291" y="599" width="80" height="2" fill="#ffdd00"/>
<rect x="291" y="625" width="80" height="1" fill="#ffdd00"/>
<rect x="291" y="630" width="80" height="1" fill="#ffdd00"/>
<rect x="291" y="641" width="80" height="1" fill="#ffdd00"/>
<rect x="277" y="516" width="14" height="1" fill="#e8183c"/>
<rect x="277" y="520" width="14" height="1" fill="#ffa020"/>
<rect x="277" y="560.5" width="14" height="2" fill="#a00a74"/>
<rect x="277" y="588" width="14" height="3" fill="#ffd000"/>
<rect x="277" y="591" width="14" height="1" fill="#e8183c"/>
<rect x="277" y="593" width="14" height="1" fill="#ffdd00"/>
<rect x="277" y="599" width="14" height="2" fill="#ffdd00"/>
<rect x="277" y="612" width="14" height="1" fill="#e8183c"/>
<rect x="277" y="615.5" width="14" height="1.5" fill="#a00a74"/>
<rect x="277" y="625" width="14" height="1" fill="#ffdd00"/>
<rect x="277" y="630" width="14" height="1" fill="#ffdd00"/>
<rect x="277" y="641" width="14" height="1" fill="#ffdd00"/>
<rect x="371" y="468" width="44" height="3" fill="#32066e"/>
<rect x="371" y="471" width="44" height="4" fill="#32066e"/>
<rect x="371" y="475" width="44" height="4" fill="#400a80"/>
<rect x="371" y="479" width="44" height="4" fill="#400a80"/>
<rect x="371" y="483" width="44" height="1" fill="#32066e"/>
<rect x="371" y="484" width="44" height="1" fill="#400a80"/>
<rect x="371" y="485" width="44" height="1" fill="#26005c"/>
<rect x="371" y="486" width="44" height="1" fill="#32066e"/>
<rect x="371" y="487" width="44" height="2" fill="#26005c"/>
<rect x="371" y="489" width="44" height="2" fill="#400a80"/>
<rect x="371" y="491" width="44" height="1" fill="#400a80"/>
<rect x="371" y="492" width="44" height="1" fill="#26005c"/>
<rect x="371" y="493" width="44" height="4" fill="#26005c"/>
<rect x="371" y="497" width="44" height="2" fill="#32066e"/>
<rect x="371" y="499" width="44" height="1" fill="#32066e"/>
<rect x="371" y="500" width="44" height="1" fill="#26005c"/>
<rect x="371" y="501" width="44" height="1" fill="#400a80"/>
<rect x="371" y="502" width="44" height="3" fill="#32066e"/>
<rect x="371" y="505" width="44" height="1" fill="#26005c"/>
<rect x="371" y="506" width="44" height="1" fill="#26005c"/>
<rect x="371" y="507" width="44" height="1" fill="#26005c"/>
<rect x="371" y="508" width="44" height="1" fill="#26005c"/>
<rect x="371" y="509" width="44" height="2" fill="#32066e"/>
<rect x="371" y="511" width="44" height="1" fill="#400a80"/>
<rect x="371" y="512" width="44" height="4" fill="#400a80"/>
<rect x="371" y="516" width="44" height="1" fill="#26005c"/>
<rect x="371" y="517" width="44" height="4" fill="#26005c"/>
<rect x="371" y="521" width="44" height="2" fill="#32066e"/>
<rect x="371" y="523" width="44" height="1" fill="#32066e"/>
<rect x="371" y="524" width="44" height="2" fill="#26005c"/>
<rect x="371" y="526" width="44" height="1" fill="#32066e"/>
<rect x="371" y="527" width="44" height="1" fill="#32066e"/>
<rect x="371" y="528" width="44" height="2" fill="#400a80"/>
<rect x="371" y="530" width="44" height="3" fill="#26005c"/>
<rect x="371" y="533" width="44" height="3" fill="#400a80"/>
<rect x="371" y="536" width="44" height="4" fill="#32066e"/>
<rect x="371" y="540" width="44" height="1" fill="#32066e"/>
<rect x="371" y="541" width="44" height="2" fill="#32066e"/>
<rect x="371" y="543" width="44" height="2" fill="#400a80"/>
<rect x="371" y="545" width="44" height="2" fill="#26005c"/>
<rect x="371" y="547" width="44" height="2" fill="#32066e"/>
<rect x="371" y="549" width="44" height="4" fill="#26005c"/>
<rect x="371" y="553" width="44" height="1" fill="#32066e"/>
<rect x="371" y="554" width="44" height="1" fill="#400a80"/>
<rect x="371" y="555" width="44" height="2" fill="#32066e"/>
<rect x="371" y="557" width="44" height="1" fill="#400a80"/>
<rect x="371" y="558" width="44" height="2" fill="#32066e"/>
<rect x="371" y="560" width="44" height="2" fill="#400a80"/>
<rect x="371" y="562" width="44" height="1" fill="#32066e"/>
<rect x="371" y="563" width="44" height="1" fill="#400a80"/>
<rect x="371" y="564" width="44" height="1" fill="#400a80"/>
<rect x="371" y="565" width="44" height="1" fill="#26005c"/>
<rect x="371" y="566" width="44" height="1" fill="#32066e"/>
<rect x="371" y="567" width="44" height="2" fill="#400a80"/>
<rect x="371" y="569" width="44" height="2" fill="#400a80"/>
<rect x="371" y="571" width="44" height="2" fill="#32066e"/>
<rect x="371" y="573" width="44" height="1" fill="#400a80"/>
<rect x="371" y="574" width="44" height="4" fill="#32066e"/>
<rect x="371" y="578" width="44" height="2" fill="#26005c"/>
<rect x="371" y="580" width="44" height="2" fill="#26005c"/>
<rect x="371" y="582" width="44" height="1" fill="#32066e"/>
<rect x="371" y="583" width="44" height="3" fill="#400a80"/>
<rect x="371" y="586" width="44" height="2" fill="#26005c"/>
<rect x="371" y="588" width="44" height="2" fill="#32066e"/>
<rect x="371" y="590" width="44" height="4" fill="#400a80"/>
<rect x="371" y="594" width="44" height="1" fill="#32066e"/>
<rect x="371" y="595" width="44" height="4" fill="#32066e"/>
<rect x="371" y="599" width="44" height="2" fill="#26005c"/>
<rect x="371" y="601" width="44" height="1" fill="#400a80"/>
<rect x="371" y="602" width="44" height="1" fill="#400a80"/>
<rect x="371" y="603" width="44" height="4" fill="#32066e"/>
<rect x="371" y="607" width="44" height="2" fill="#26005c"/>
<rect x="371" y="609" width="44" height="4" fill="#26005c"/>
<rect x="371" y="613" width="44" height="1" fill="#400a80"/>
<rect x="371" y="614" width="44" height="3" fill="#32066e"/>
<rect x="371" y="617" width="44" height="1" fill="#26005c"/>
<rect x="371" y="618" width="44" height="4" fill="#400a80"/>
<rect x="371" y="622" width="44" height="2" fill="#32066e"/>
<rect x="371" y="624" width="44" height="2" fill="#400a80"/>
<rect x="371" y="626" width="44" height="2" fill="#26005c"/>
<rect x="371" y="628" width="44" height="1" fill="#400a80"/>
<rect x="371" y="629" width="44" height="1" fill="#32066e"/>
<rect x="371" y="630" width="44" height="2" fill="#26005c"/>
<rect x="371" y="632" width="44" height="1" fill="#400a80"/>
<rect x="371" y="633" width="44" height="3" fill="#26005c"/>
<rect x="371" y="636" width="44" height="4" fill="#32066e"/>
<rect x="371" y="640" width="44" height="1" fill="#26005c"/>
<rect x="371" y="641" width="44" height="2" fill="#32066e"/>
<rect x="371" y="643" width="44" height="1" fill="#26005c"/>
<rect x="371" y="644" width="44" height="2" fill="#32066e"/>
<rect x="371" y="646" width="44" height="1" fill="#32066e"/>
<rect x="371" y="647" width="44" height="2" fill="#26005c"/>
<rect x="371" y="485" width="44" height="1" fill="#a00a74"/>
<rect x="371" y="494" width="44" height="1" fill="#400a80"/>
<rect x="371" y="498" width="44" height="1" fill="#400a80"/>
<rect x="371" y="505" width="44" height="2" fill="#400a80"/>
<rect x="371" y="516" width="44" height="1" fill="#e8183c"/>
<rect x="371" y="517" width="44" height="2" fill="#a00a74"/>
<rect x="371" y="520" width="44" height="1" fill="#ffa020"/>
<rect x="371" y="526" width="44" height="1" fill="#a00a74"/>
<rect x="371" y="529" width="44" height="2" fill="#ffdd00"/>
<rect x="371" y="542" width="44" height="1" fill="#a00a74"/>
<rect x="371" y="548" width="44" height="1" fill="#a00a74"/>
<rect x="371" y="553" width="44" height="2" fill="#ffdd00"/>
<rect x="371" y="560.5" width="44" height="2" fill="#a00a74"/>
<rect x="371" y="583" width="44" height="1" fill="#a00a74"/>
<rect x="371" y="588" width="44" height="3" fill="#ffd000"/>
<rect x="371" y="591" width="44" height="1" fill="#e8183c"/>
<rect x="371" y="593" width="44" height="1" fill="#ffdd00"/>
<rect x="371" y="599" width="44" height="2" fill="#ffdd00"/>
<rect x="371" y="605" width="44" height="1" fill="#a00a74"/>
<rect x="371" y="612" width="44" height="1" fill="#e8183c"/>
<rect x="371" y="615.5" width="44" height="1.5" fill="#a00a74"/>
<rect x="371" y="625" width="44" height="1" fill="#ffdd00"/>
<rect x="371" y="630" width="44" height="1" fill="#ffdd00"/>
<rect x="371" y="633" width="44" height="1" fill="#e8183c"/>
<rect x="371" y="638" width="44" height="1" fill="#a00a74"/>
<rect x="371" y="641" width="44" height="1" fill="#ffdd00"/>
<rect x="371" y="468" width="1" height="181" fill="#1a0040"/>
<rect x="466" y="468" width="44" height="3" fill="#26005c"/>
<rect x="466" y="471" width="44" height="2" fill="#32066e"/>
<rect x="466" y="473" width="44" height="1" fill="#26005c"/>
<rect x="466" y="474" width="44" height="1" fill="#400a80"/>
<rect x="466" y="475" width="44" height="3" fill="#32066e"/>
<rect x="466" y="478" width="44" height="4" fill="#32066e"/>
<rect x="466" y="482" width="44" height="2" fill="#26005c"/>
<rect x="466" y="484" width="44" height="2" fill="#32066e"/>
<rect x="466" y="486" width="44" height="1" fill="#400a80"/>
<rect x="466" y="487" width="44" height="2" fill="#400a80"/>
<rect x="466" y="489" width="44" height="3" fill="#400a80"/>
<rect x="466" y="492" width="44" height="1" fill="#26005c"/>
<rect x="466" y="493" width="44" height="3" fill="#400a80"/>
<rect x="466" y="496" width="44" height="4" fill="#400a80"/>
<rect x="466" y="500" width="44" height="2" fill="#400a80"/>
<rect x="466" y="502" width="44" height="3" fill="#400a80"/>
<rect x="466" y="505" width="44" height="1" fill="#32066e"/>
<rect x="466" y="506" width="44" height="2" fill="#26005c"/>
<rect x="466" y="508" width="44" height="2" fill="#32066e"/>
<rect x="466" y="510" width="44" height="2" fill="#32066e"/>
<rect x="466" y="512" width="44" height="4" fill="#26005c"/>
<rect x="466" y="516" width="44" height="1" fill="#400a80"/>
<rect x="466" y="517" width="44" height="4" fill="#32066e"/>
<rect x="466" y="521" width="44" height="1" fill="#26005c"/>
<rect x="466" y="522" width="44" height="3" fill="#26005c"/>
<rect x="466" y="525" width="44" height="4" fill="#32066e"/>
<rect x="466" y="529" width="44" height="2" fill="#26005c"/>
<rect x="466" y="531" width="44" height="3" fill="#400a80"/>
<rect x="466" y="534" width="44" height="4" fill="#400a80"/>
<rect x="466" y="538" width="44" height="3" fill="#26005c"/>
<rect x="466" y="541" width="44" height="4" fill="#32066e"/>
<rect x="466" y="545" width="44" height="1" fill="#400a80"/>
<rect x="466" y="546" width="44" height="2" fill="#32066e"/>
<rect x="466" y="548" width="44" height="2" fill="#400a80"/>
<rect x="466" y="550" width="44" height="1" fill="#26005c"/>
<rect x="466" y="551" width="44" height="3" fill="#400a80"/>
<rect x="466" y="554" width="44" height="3" fill="#26005c"/>
<rect x="466" y="557" width="44" height="1" fill="#400a80"/>
<rect x="466" y="558" width="44" height="4" fill="#32066e"/>
<rect x="466" y="562" width="44" height="2" fill="#400a80"/>
<rect x="466" y="564" width="44" height="1" fill="#32066e"/>
<rect x="466" y="565" width="44" height="2" fill="#26005c"/>
<rect x="466" y="567" width="44" height="1" fill="#400a80"/>
<rect x="466" y="568" width="44" height="1" fill="#400a80"/>
<rect x="466" y="569" width="44" height="3" fill="#26005c"/>
<rect x="466" y="572" width="44" height="1" fill="#26005c"/>
<rect x="466" y="573" width="44" height="1" fill="#400a80"/>
<rect x="466" y="574" width="44" height="2" fill="#400a80"/>
<rect x="466" y="576" width="44" height="4" fill="#400a80"/>
<rect x="466" y="580" width="44" height="3" fill="#32066e"/>
<rect x="466" y="583" width="44" height="2" fill="#32066e"/>
<rect x="466" y="585" width="44" height="3" fill="#32066e"/>
<rect x="466" y="588" width="44" height="2" fill="#26005c"/>
<rect x="466" y="590" width="44" height="4" fill="#32066e"/>
<rect x="466" y="594" width="44" height="1" fill="#26005c"/>
<rect x="466" y="595" width="44" height="2" fill="#400a80"/>
<rect x="466" y="597" width="44" height="4" fill="#32066e"/>
<rect x="466" y="601" width="44" height="1" fill="#32066e"/>
<rect x="466" y="602" width="44" height="1" fill="#26005c"/>
<rect x="466" y="603" width="44" height="3" fill="#400a80"/>
<rect x="466" y="606" width="44" height="2" fill="#32066e"/>
<rect x="466" y="608" width="44" height="2" fill="#26005c"/>
<rect x="466" y="610" width="44" height="3" fill="#32066e"/>
<rect x="466" y="613" width="44" height="2" fill="#32066e"/>
<rect x="466" y="615" width="44" height="4" fill="#32066e"/>
<rect x="466" y="619" width="44" height="1" fill="#26005c"/>
<rect x="466" y="620" width="44" height="4" fill="#400a80"/>
<rect x="466" y="624" width="44" height="2" fill="#32066e"/>
<rect x="466" y="626" width="44" height="2" fill="#400a80"/>
<rect x="466" y="628" width="44" height="1" fill="#26005c"/>
<rect x="466" y="629" width="44" height="1" fill="#400a80"/>
<rect x="466" y="630" width="44" height="1" fill="#32066e"/>
<rect x="466" y="631" width="44" height="3" fill="#32066e"/>
<rect x="466" y="634" width="44" height="1" fill="#32066e"/>
<rect x="466" y="635" width="44" height="3" fill="#32066e"/>
<rect x="466" y="638" width="44" height="2" fill="#400a80"/>
<rect x="466" y="640" width="44" height="2" fill="#32066e"/>
<rect x="466" y="642" width="44" height="2" fill="#400a80"/>
<rect x="466" y="644" width="44" height="2" fill="#32066e"/>
<rect x="466" y="646" width="44" height="3" fill="#32066e"/>
<rect x="466" y="468" width="44" height="2" fill="#a00a74"/>
<rect x="466" y="472" width="44" height="1" fill="#a00a74"/>
<rect x="466" y="475" width="44" height="1" fill="#a00a74"/>
<rect x="466" y="477" width="44" height="3" fill="#a00a74"/>
<rect x="466" y="485" width="44" height="1" fill="#ffdd00"/>
<rect x="466" y="494" width="44" height="1" fill="#ffdd00"/>
<rect x="466" y="497" width="44" height="2" fill="#ffdd00"/>
<rect x="466" y="504" width="44" height="1" fill="#e8183c"/>
<rect x="466" y="506" width="44" height="1" fill="#ffdd00"/>
<rect x="466" y="510" width="44" height="1" fill="#a00a74"/>
<rect x="466" y="512" width="44" height="2" fill="#e8183c"/>
<rect x="466" y="516" width="44" height="1" fill="#ffdd00"/>
<rect x="466" y="517.5" width="44" height="1" fill="#e8183c"/>
<rect x="466" y="519" width="44" height="1" fill="#ffdd00"/>
<rect x="466" y="521" width="44" height="2" fill="#a00a74"/>
<rect x="466" y="524" width="44" height="1" fill="#ffdd00"/>
<rect x="466" y="528" width="44" height="3" fill="#ffdd00"/>
<rect x="466" y="533" width="44" height="2" fill="#a00a74"/>
<rect x="466" y="542" width="44" height="1" fill="#ffdd00"/>
<rect x="466" y="548" width="44" height="1" fill="#ffdd00"/>
<rect x="466" y="553" width="44" height="2" fill="#ffdd00"/>
<rect x="466" y="556" width="44" height="1" fill="#e8183c"/>
<rect x="466" y="560" width="44" height="3" fill="#ffdd00"/>
<rect x="466" y="575" width="44" height="3" fill="#c01060"/>
<rect x="466" y="581" width="44" height="1" fill="#e8183c"/>
<rect x="466" y="583" width="44" height="1" fill="#ffdd00"/>
<rect x="466" y="588" width="44" height="6" fill="#ffdd00"/>
<rect x="466" y="594" width="44" height="1" fill="#e8183c"/>
<rect x="466" y="599" width="44" height="1.5" fill="#ffdd00"/>
<rect x="466" y="605" width="44" height="1" fill="#ffdd00"/>
<rect x="466" y="609" width="44" height="1.5" fill="#a00a74"/>
<rect x="466" y="612" width="44" height="1" fill="#ffdd00"/>
<rect x="466" y="615" width="44" height="2" fill="#ffdd00"/>
<rect x="466" y="620" width="44" height="1" fill="#e8183c"/>
<rect x="466" y="623" width="44" height="1" fill="#ff5a1a"/>
<rect x="466" y="627" width="44" height="1" fill="#e8183c"/>
<rect x="466" y="633" width="44" height="1" fill="#ffdd00"/>
<rect x="466" y="635" width="44" height="1" fill="#e8183c"/>
<rect x="466" y="638" width="44" height="1" fill="#ffdd00"/>
<rect x="466" y="641" width="44" height="1" fill="#ffdd00"/>
<rect x="527" y="468" width="63" height="2" fill="#26005c"/>
<rect x="527" y="470" width="63" height="2" fill="#400a80"/>
<rect x="527" y="472" width="63" height="1" fill="#26005c"/>
<rect x="527" y="473" width="63" height="3" fill="#26005c"/>
<rect x="527" y="476" width="63" height="2" fill="#400a80"/>
<rect x="527" y="478" width="63" height="1" fill="#400a80"/>
<rect x="527" y="479" width="63" height="1" fill="#26005c"/>
<rect x="527" y="480" width="63" height="1" fill="#32066e"/>
<rect x="527" y="481" width="63" height="2" fill="#26005c"/>
<rect x="527" y="483" width="63" height="1" fill="#26005c"/>
<rect x="527" y="484" width="63" height="3" fill="#32066e"/>
<rect x="527" y="487" width="63" height="1" fill="#400a80"/>
<rect x="527" y="488" width="63" height="1" fill="#26005c"/>
<rect x="527" y="489" width="63" height="4" fill="#400a80"/>
<rect x="527" y="493" width="63" height="3" fill="#26005c"/>
<rect x="527" y="496" width="63" height="3" fill="#400a80"/>
<rect x="527" y="499" width="63" height="2" fill="#26005c"/>
<rect x="527" y="501" width="63" height="1" fill="#26005c"/>
<rect x="527" y="502" width="63" height="3" fill="#26005c"/>
<rect x="527" y="505" width="63" height="2" fill="#32066e"/>
<rect x="527" y="507" width="63" height="1" fill="#400a80"/>
<rect x="527" y="508" width="63" height="1" fill="#400a80"/>
<rect x="527" y="509" width="63" height="2" fill="#400a80"/>
<rect x="527" y="511" width="63" height="4" fill="#26005c"/>
<rect x="527" y="515" width="63" height="1" fill="#400a80"/>
<rect x="527" y="516" width="63" height="3" fill="#400a80"/>
<rect x="527" y="519" width="63" height="1" fill="#32066e"/>
<rect x="527" y="520" width="63" height="1" fill="#400a80"/>
<rect x="527" y="521" width="63" height="4" fill="#26005c"/>
<rect x="527" y="525" width="63" height="3" fill="#26005c"/>
<rect x="527" y="528" width="63" height="3" fill="#26005c"/>
<rect x="527" y="531" width="63" height="2" fill="#400a80"/>
<rect x="527" y="533" width="63" height="3" fill="#32066e"/>
<rect x="527" y="536" width="63" height="2" fill="#32066e"/>
<rect x="527" y="538" width="63" height="3" fill="#32066e"/>
<rect x="527" y="541" width="63" height="2" fill="#32066e"/>
<rect x="527" y="543" width="63" height="1" fill="#26005c"/>
<rect x="527" y="544" width="63" height="4" fill="#26005c"/>
<rect x="527" y="548" width="63" height="1" fill="#400a80"/>
<rect x="527" y="549" width="63" height="2" fill="#400a80"/>
<rect x="527" y="551" width="63" height="2" fill="#32066e"/>
<rect x="527" y="553" width="63" height="4" fill="#32066e"/>
<rect x="527" y="557" width="63" height="2" fill="#400a80"/>
<rect x="527" y="559" width="63" height="1" fill="#26005c"/>
<rect x="527" y="560" width="63" height="3" fill="#32066e"/>
<rect x="527" y="563" width="63" height="1" fill="#32066e"/>
<rect x="527" y="564" width="63" height="1" fill="#32066e"/>
<rect x="527" y="565" width="63" height="2" fill="#26005c"/>
<rect x="527" y="567" width="63" height="4" fill="#26005c"/>
<rect x="527" y="571" width="63" height="3" fill="#400a80"/>
<rect x="527" y="574" width="63" height="2" fill="#32066e"/>
<rect x="527" y="576" width="63" height="4" fill="#32066e"/>
<rect x="527" y="580" width="63" height="3" fill="#32066e"/>
<rect x="527" y="583" width="63" height="3" fill="#32066e"/>
<rect x="527" y="586" width="63" height="1" fill="#26005c"/>
<rect x="527" y="587" width="63" height="2" fill="#32066e"/>
<rect x="527" y="589" width="63" height="4" fill="#400a80"/>
<rect x="527" y="593" width="63" height="1" fill="#26005c"/>
<rect x="527" y="594" width="63" height="4" fill="#400a80"/>
<rect x="527" y="598" width="63" height="2" fill="#400a80"/>
<rect x="527" y="600" width="63" height="3" fill="#400a80"/>
<rect x="527" y="603" width="63" height="2" fill="#32066e"/>
<rect x="527" y="605" width="63" height="4" fill="#32066e"/>
<rect x="527" y="609" width="63" height="4" fill="#32066e"/>
<rect x="527" y="613" width="63" height="1" fill="#32066e"/>
<rect x="527" y="614" width="63" height="2" fill="#26005c"/>
<rect x="527" y="616" width="63" height="3" fill="#26005c"/>
<rect x="527" y="619" width="63" height="2" fill="#26005c"/>
<rect x="527" y="621" width="63" height="1" fill="#32066e"/>
<rect x="527" y="622" width="63" height="1" fill="#400a80"/>
<rect x="527" y="623" width="63" height="1" fill="#32066e"/>
<rect x="527" y="624" width="63" height="2" fill="#32066e"/>
<rect x="527" y="626" width="63" height="1" fill="#26005c"/>
<rect x="527" y="627" width="63" height="2" fill="#32066e"/>
<rect x="527" y="629" width="63" height="3" fill="#32066e"/>
<rect x="527" y="632" width="63" height="1" fill="#32066e"/>
<rect x="527" y="633" width="63" height="3" fill="#32066e"/>
<rect x="527" y="636" width="63" height="4" fill="#32066e"/>
<rect x="527" y="640" width="63" height="2" fill="#400a80"/>
<rect x="527" y="642" width="63" height="2" fill="#26005c"/>
<rect x="527" y="644" width="63" height="1" fill="#26005c"/>
<rect x="527" y="645" width="63" height="1" fill="#26005c"/>
<rect x="527" y="646" width="63" height="1" fill="#400a80"/>
<rect x="527" y="647" width="63" height="1" fill="#26005c"/>
<rect x="527" y="648" width="63" height="1" fill="#400a80"/>
<rect x="527" y="468" width="63" height="2" fill="#a00a74"/>
<rect x="527" y="472" width="63" height="1" fill="#a00a74"/>
<rect x="527" y="475" width="63" height="1" fill="#a00a74"/>
<rect x="527" y="477" width="63" height="3" fill="#a00a74"/>
<rect x="527" y="485" width="63" height="1" fill="#ffdd00"/>
<rect x="527" y="494" width="63" height="1" fill="#ffdd00"/>
<rect x="527" y="497" width="63" height="2" fill="#ffdd00"/>
<rect x="527" y="504" width="63" height="1" fill="#e8183c"/>
<rect x="527" y="506" width="63" height="1" fill="#ffdd00"/>
<rect x="527" y="510" width="63" height="1" fill="#a00a74"/>
<rect x="527" y="512" width="63" height="2" fill="#e8183c"/>
<rect x="527" y="516" width="63" height="1" fill="#ffdd00"/>
<rect x="527" y="517.5" width="63" height="1" fill="#e8183c"/>
<rect x="527" y="519" width="63" height="1" fill="#ffdd00"/>
<rect x="527" y="521" width="63" height="2" fill="#a00a74"/>
<rect x="527" y="524" width="63" height="1" fill="#ffdd00"/>
<rect x="527" y="528" width="63" height="3" fill="#ffdd00"/>
<rect x="527" y="533" width="63" height="2" fill="#a00a74"/>
<rect x="527" y="542" width="63" height="1" fill="#ffdd00"/>
<rect x="527" y="548" width="63" height="1" fill="#ffdd00"/>
<rect x="527" y="553" width="63" height="2" fill="#ffdd00"/>
<rect x="527" y="556" width="63" height="1" fill="#e8183c"/>
<rect x="527" y="560" width="63" height="3" fill="#ffdd00"/>
<rect x="527" y="575" width="63" height="3" fill="#c01060"/>
<rect x="527" y="581" width="63" height="1" fill="#e8183c"/>
<rect x="527" y="583" width="63" height="1" fill="#ffdd00"/>
<rect x="527" y="588" width="63" height="6" fill="#ffdd00"/>
<rect x="527" y="594" width="63" height="1" fill="#e8183c"/>
<rect x="527" y="599" width="63" height="1.5" fill="#ffdd00"/>
<rect x="527" y="605" width="63" height="1" fill="#ffdd00"/>
<rect x="527" y="609" width="63" height="1.5" fill="#a00a74"/>
<rect x="527" y="612" width="63" height="1" fill="#ffdd00"/>
<rect x="527" y="615" width="63" height="2" fill="#ffdd00"/>
<rect x="527" y="620" width="63" height="1" fill="#e8183c"/>
<rect x="527" y="623" width="63" height="1" fill="#ff5a1a"/>
<rect x="527" y="627" width="63" height="1" fill="#e8183c"/>
<rect x="527" y="633" width="63" height="1" fill="#ffdd00"/>
<rect x="527" y="635" width="63" height="1" fill="#e8183c"/>
<rect x="527" y="638" width="63" height="1" fill="#ffdd00"/>
<rect x="527" y="641" width="63" height="1" fill="#ffdd00"/>
<rect x="590" y="551" width="40" height="1" fill="#32066e"/>
<rect x="590" y="552" width="40" height="2" fill="#26005c"/>
<rect x="590" y="554" width="40" height="1" fill="#400a80"/>
<rect x="590" y="555" width="40" height="1" fill="#26005c"/>
<rect x="590" y="556" width="40" height="1" fill="#26005c"/>
<rect x="590" y="557" width="40" height="3" fill="#26005c"/>
<rect x="590" y="560" width="40" height="2" fill="#400a80"/>
<rect x="590" y="562" width="40" height="1" fill="#32066e"/>
<rect x="590" y="563" width="40" height="2" fill="#32066e"/>
<rect x="590" y="565" width="40" height="2" fill="#32066e"/>
<rect x="590" y="567" width="40" height="3" fill="#26005c"/>
<rect x="590" y="570" width="40" height="2" fill="#26005c"/>
<rect x="590" y="572" width="40" height="2" fill="#26005c"/>
<rect x="590" y="574" width="40" height="1" fill="#400a80"/>
<rect x="590" y="575" width="40" height="2" fill="#400a80"/>
<rect x="590" y="577" width="40" height="2" fill="#32066e"/>
<rect x="590" y="579" width="40" height="2" fill="#400a80"/>
<rect x="590" y="581" width="40" height="1" fill="#400a80"/>
<rect x="590" y="582" width="40" height="2" fill="#26005c"/>
<rect x="590" y="584" width="40" height="1" fill="#32066e"/>
<rect x="590" y="585" width="40" height="3" fill="#32066e"/>
<rect x="590" y="588" width="40" height="1" fill="#400a80"/>
<rect x="590" y="589" width="40" height="1" fill="#32066e"/>
<rect x="590" y="590" width="40" height="1" fill="#400a80"/>
<rect x="590" y="591" width="40" height="1" fill="#32066e"/>
<rect x="590" y="592" width="40" height="4" fill="#400a80"/>
<rect x="590" y="596" width="40" height="1" fill="#400a80"/>
<rect x="590" y="597" width="40" height="1" fill="#400a80"/>
<rect x="590" y="598" width="40" height="1" fill="#400a80"/>
<rect x="590" y="599" width="40" height="1" fill="#32066e"/>
<rect x="590" y="600" width="40" height="4" fill="#26005c"/>
<rect x="590" y="604" width="40" height="1" fill="#400a80"/>
<rect x="590" y="605" width="40" height="2" fill="#400a80"/>
<rect x="590" y="607" width="40" height="3" fill="#32066e"/>
<rect x="590" y="610" width="40" height="2" fill="#400a80"/>
<rect x="590" y="612" width="40" height="2" fill="#32066e"/>
<rect x="590" y="614" width="40" height="1" fill="#26005c"/>
<rect x="590" y="615" width="40" height="3" fill="#26005c"/>
<rect x="590" y="618" width="40" height="3" fill="#400a80"/>
<rect x="590" y="621" width="40" height="2" fill="#400a80"/>
<rect x="590" y="623" width="40" height="2" fill="#400a80"/>
<rect x="590" y="625" width="40" height="2" fill="#400a80"/>
<rect x="590" y="627" width="40" height="3" fill="#26005c"/>
<rect x="590" y="630" width="40" height="2" fill="#26005c"/>
<rect x="590" y="632" width="40" height="2" fill="#400a80"/>
<rect x="590" y="634" width="40" height="2" fill="#400a80"/>
<rect x="590" y="636" width="40" height="4" fill="#26005c"/>
<rect x="590" y="640" width="40" height="3" fill="#400a80"/>
<rect x="590" y="643" width="40" height="3" fill="#26005c"/>
<rect x="590" y="646" width="40" height="2" fill="#26005c"/>
<rect x="590" y="648" width="40" height="1" fill="#32066e"/>
<rect x="590" y="553" width="40" height="2" fill="#ffdd00"/>
<rect x="590" y="556" width="40" height="1" fill="#e8183c"/>
<rect x="590" y="557" width="40" height="2" fill="#ffdd00"/>
<rect x="590" y="560.5" width="40" height="2.5" fill="#ffdd00"/>
<rect x="590" y="569.5" width="40" height="1.5" fill="#e8183c"/>
<rect x="590" y="574.5" width="40" height="2.5" fill="#ffdd00"/>
<rect x="590" y="577" width="40" height="1" fill="#e8183c"/>
<rect x="590" y="578.5" width="40" height="1" fill="#ffdd00"/>
<rect x="590" y="580" width="40" height="1" fill="#ffdd00"/>
<rect x="590" y="582.5" width="40" height="1.5" fill="#ffdd00"/>
<rect x="590" y="588" width="40" height="6" fill="#ffe020"/>
<rect x="590" y="592" width="40" height="2" fill="#fff080"/>
<rect x="590" y="595" width="40" height="1" fill="#e8183c"/>
<rect x="590" y="599" width="40" height="2" fill="#fff8d0"/>
<rect x="590" y="604.5" width="40" height="1" fill="#e8183c"/>
<rect x="590" y="607.5" width="40" height="1.5" fill="#ffdd00"/>
<rect x="590" y="612" width="40" height="2" fill="#ffdd00"/>
<rect x="590" y="615.5" width="40" height="1" fill="#ff5a1a"/>
<rect x="590" y="621" width="40" height="2.5" fill="#ffdd00"/>
<rect x="590" y="625" width="40" height="1" fill="#e8183c"/>
<rect x="590" y="627.5" width="40" height="4.5" fill="#ffdd00"/>
<rect x="590" y="634" width="40" height="3" fill="#ffdd00"/>
<rect x="590" y="638" width="40" height="2.5" fill="#ffdd00"/>
<rect x="630" y="551" width="8" height="2" fill="#a00a74"/>
<rect x="630" y="553" width="8" height="2" fill="#32066e"/>
<rect x="630" y="555" width="8" height="1" fill="#26005c"/>
<rect x="630" y="556" width="8" height="2" fill="#32066e"/>
<rect x="630" y="558" width="8" height="3" fill="#26005c"/>
<rect x="630" y="561" width="8" height="2" fill="#26005c"/>
<rect x="630" y="563" width="8" height="4" fill="#32066e"/>
<rect x="630" y="567" width="8" height="1" fill="#32066e"/>
<rect x="630" y="568" width="8" height="4" fill="#32066e"/>
<rect x="630" y="572" width="8" height="1" fill="#32066e"/>
<rect x="630" y="573" width="8" height="1" fill="#26005c"/>
<rect x="630" y="574" width="8" height="1" fill="#32066e"/>
<rect x="630" y="575" width="8" height="3" fill="#26005c"/>
<rect x="630" y="578" width="8" height="4" fill="#32066e"/>
<rect x="630" y="582" width="8" height="4" fill="#26005c"/>
<rect x="630" y="586" width="8" height="2" fill="#32066e"/>
<rect x="630" y="588" width="8" height="4" fill="#32066e"/>
<rect x="630" y="592" width="8" height="4" fill="#32066e"/>
<rect x="630" y="596" width="8" height="1" fill="#a00a74"/>
<rect x="630" y="597" width="8" height="1" fill="#32066e"/>
<rect x="630" y="598" width="8" height="2" fill="#a00a74"/>
<rect x="630" y="600" width="8" height="1" fill="#32066e"/>
<rect x="630" y="601" width="8" height="4" fill="#26005c"/>
<rect x="630" y="605" width="8" height="2" fill="#26005c"/>
<rect x="630" y="607" width="8" height="2" fill="#32066e"/>
<rect x="630" y="609" width="8" height="1" fill="#26005c"/>
<rect x="630" y="610" width="8" height="1" fill="#32066e"/>
<rect x="630" y="611" width="8" height="4" fill="#26005c"/>
<rect x="630" y="615" width="8" height="3" fill="#26005c"/>
<rect x="630" y="618" width="8" height="1" fill="#32066e"/>
<rect x="630" y="619" width="8" height="1" fill="#a00a74"/>
<rect x="630" y="620" width="8" height="1" fill="#26005c"/>
<rect x="630" y="621" width="8" height="1" fill="#26005c"/>
<rect x="630" y="622" width="8" height="3" fill="#26005c"/>
<rect x="630" y="625" width="8" height="3" fill="#32066e"/>
<rect x="630" y="628" width="8" height="3" fill="#32066e"/>
<rect x="630" y="631" width="8" height="2" fill="#26005c"/>
<rect x="630" y="633" width="8" height="2" fill="#32066e"/>
<rect x="630" y="635" width="8" height="4" fill="#26005c"/>
<rect x="630" y="639" width="8" height="4" fill="#32066e"/>
<rect x="630" y="643" width="8" height="1" fill="#26005c"/>
<rect x="630" y="644" width="8" height="1" fill="#a00a74"/>
<rect x="630" y="645" width="8" height="3" fill="#32066e"/>
<rect x="630" y="648" width="8" height="1" fill="#a00a74"/>
<rect x="630" y="553" width="8" height="2" fill="#ffdd00"/>
<rect x="630" y="557" width="8" height="1" fill="#e8183c"/>
<rect x="630" y="560" width="8" height="2" fill="#e8183c"/>
<rect x="630" y="575" width="8" height="1" fill="#e8183c"/>
<rect x="630" y="588" width="8" height="6" fill="#ffdd00"/>
<rect x="630" y="599" width="8" height="2" fill="#ffdd00"/>
<rect x="630" y="604" width="8" height="1" fill="#e8183c"/>
<rect x="630" y="608" width="8" height="2" fill="#e8183c"/>
<rect x="630" y="613" width="8" height="1" fill="#ffdd00"/>
<rect x="630" y="621" width="8" height="2" fill="#e8183c"/>
<rect x="630" y="628" width="8" height="2" fill="#ffdd00"/>
<rect x="630" y="634" width="8" height="1" fill="#e8183c"/>
<rect x="630" y="638" width="8" height="2" fill="#ffdd00"/>
<rect x="590" y="550" width="48" height="1" fill="#fffbd0"/>
<rect x="256" y="485" width="1" height="164" fill="#1c0640"/>
<rect x="267" y="485" width="1" height="164" fill="#1c0640"/>
<rect x="274" y="485" width="1" height="164" fill="#1c0640"/>
<rect x="419" y="485" width="1" height="164" fill="#1c0640"/>
<rect x="427" y="485" width="1" height="164" fill="#1c0640"/>
<rect x="443" y="485" width="1" height="164" fill="#1c0640"/></g>
<g filter="url(#bl)" fill="#fff">
<rect x="281" y="250" width="90" height="12"/>
<rect x="182" y="498" width="66" height="9"/>
<rect x="590" y="547" width="48" height="7"/>
<rect x="574" y="547.5" width="18" height="4" opacity=".6"/>
<rect x="576" y="596" width="56" height="8"/>
<rect x="141" y="645" width="497" height="10"/>
</g>
<rect x="590" y="599" width="40" height="2" fill="#fff8d0"/>
<rect x="141" y="648.5" width="497" height="1.5" fill="#fffbd8"/>
</svg>
<svg class="a" style="left:0;top:0" width="698" height="768" viewBox="0 0 698 768"><rect x="249.20" y="232.00" width="5.70" height="2.80" rx="0.6" fill="#000"/><rect x="258.30" y="232.00" width="5.70" height="2.80" rx="0.6" fill="#000"/><rect x="255.20" y="226.00" width="2.80" height="5.70" rx="0.6" fill="#000"/><rect x="255.20" y="235.10" width="2.80" height="5.70" rx="0.6" fill="#000"/><rect x="250.20" y="232.80" width="3.70" height="1.20" fill="#fff"/><rect x="259.30" y="232.80" width="3.70" height="1.20" fill="#fff"/><rect x="256.00" y="227.00" width="1.20" height="3.70" fill="#fff"/><rect x="256.00" y="236.10" width="1.20" height="3.70" fill="#fff"/></svg>
<!-- right lines -->
<div class="a" style="left:687px;top:81px;width:1px;height:107px;background:#333"></div><div class="a" style="left:687px;top:188px;width:1px;height:508px;background:#555"></div>
<div class="a" style="left:658px;top:649px;width:30px;height:1px;background:#555"></div>
<!-- timeline -->
<svg class="a" style="left:0;top:0" width="698" height="768" viewBox="0 0 698 768"><path d="M141,746 141,742 142,742 142,742 143,742 143,742 144,742 144,742 145,742 145,742 146,742 146,742 147,742 147,742 148,742 148,742 149,742 149,742 150,742 150,742.1 151,742.1 151,742.2 152,742.2 152,742.3 153,742.3 153,742.4 154,742.4 154,742.2 155,742.2 155,742.4 156,742.4 156,741.5 157,741.5 157,742.0 158,742.0 158,742.4 159,742.4 159,742.1 160,742.1 160,742.4 161,742.4 161,741.6 162,741.6 162,742.0 163,742.0 163,741.7 164,741.7 164,742.0 165,742.0 165,742.1 166,742.1 166,741.5 167,741.5 167,741.7 168,741.7 168,741.8 169,741.8 169,742.4 170,742.4 170,742.3 171,742.3 171,741.7 172,741.7 172,742.3 173,742.3 173,741.6 174,741.6 174,742.1 175,742.1 175,741.6 176,741.6 176,741.5 177,741.5 177,742.4 178,742.4 178,741.7 179,741.7 179,741.7 180,741.7 180,742.5 181,742.5 181,742.4 182,742.4 182,741.8 183,741.8 183,742.5 184,742.5 184,742.0 185,742.0 185,742.2 186,742.2 186,741.7 187,741.7 187,742.4 188,742.4 188,742.2 189,742.2 189,742.5 190,742.5 190,742.4 191,742.4 191,741.8 192,741.8 192,741.9 193,741.9 193,741.7 194,741.7 194,741.6 195,741.6 195,741.6 196,741.6 196,741.8 197,741.8 197,742.1 198,742.1 198,741.5 199,741.5 199,742.2 200,742.2 200,741.8 201,741.8 201,741.8 202,741.8 202,742.3 203,742.3 203,742.0 204,742.0 204,741.8 205,741.8 205,742.0 206,742.0 206,742.2 207,742.2 207,741.6 208,741.6 208,742.5 209,742.5 209,741.5 210,741.5 210,742.2 211,742.2 211,742.3 212,742.3 212,741.5 213,741.5 213,742.3 214,742.3 214,741.9 215,741.9 215,742.1 216,742.1 216,741.5 217,741.5 217,741.5 218,741.5 218,741.7 219,741.7 219,742.5 220,742.5 220,741.7 221,741.7 221,742.3 222,742.3 222,742.4 223,742.4 223,742.4 224,742.4 224,741.8 225,741.8 225,741.9 226,741.9 226,742.0 227,742.0 227,742.3 228,742.3 228,741.6 229,741.6 229,742.2 230,742.2 230,742.3 231,742.3 231,742.4 232,742.4 232,741.5 233,741.5 233,742.4 234,742.4 234,741.6 235,741.6 235,741.8 236,741.8 236,742.1 237,742.1 237,742.4 238,742.4 238,741.8 239,741.8 239,742.4 240,742.4 240,742.0 241,742.0 241,741.8 242,741.8 242,741.8 243,741.8 243,741.7 244,741.7 244,741.6 245,741.6 245,741.6 246,741.6 246,742.2 247,742.2 247,734 248,734 248,743.4 249,743.4 249,742.7 250,742.7 250,742.6 251,742.6 251,743.4 252,743.4 252,743.0 253,743.0 253,742.9 254,742.9 254,742.8 255,742.8 255,743.1 256,743.1 256,743.3 257,743.3 257,743.0 258,743.0 258,742.9 259,742.9 259,742.6 260,742.6 260,743.3 261,743.3 261,742.6 262,742.6 262,743.0 263,743.0 263,743.3 264,743.3 264,742.7 265,742.7 265,743.2 266,743.2 266,743.4 267,743.4 267,743.1 268,743.1 268,743.2 269,743.2 269,742.7 270,742.7 270,742.9 271,742.9 271,742.7 272,742.7 272,743.3 273,743.3 273,742.8 274,742.8 274,743.0 275,743.0 275,743.4 276,743.4 276,736 277,736 277,716 278,716 278,721.8 279,721.8 279,722.1 280,722.1 280,720.9 281,720.9 281,721.0 282,721.0 282,721.6 283,721.6 283,720.9 284,720.9 284,720.5 285,720.5 285,720.8 286,720.8 286,720.2 287,720.2 287,720.7 288,720.7 288,722.2 289,722.2 289,722.1 290,722.1 290,721.3 291,721.3 291,721.0 292,721.0 292,720.6 293,720.6 293,720.0 294,720.0 294,720.5 295,720.5 295,721.7 296,721.7 296,721.9 297,721.9 297,720.7 298,720.7 298,721.7 299,721.7 299,721.7 300,721.7 300,721.5 301,721.5 301,721.4 302,721.4 302,721.6 303,721.6 303,720.7 304,720.7 304,721.5 305,721.5 305,720.5 306,720.5 306,721.0 307,721.0 307,721.6 308,721.6 308,721.5 309,721.5 309,720.5 310,720.5 310,722.1 311,722.1 311,721.4 312,721.4 312,721.2 313,721.2 313,719.8 314,719.8 314,721.1 315,721.1 315,720.4 316,720.4 316,721.4 317,721.4 317,720.9 318,720.9 318,721.8 319,721.8 319,721.4 320,721.4 320,721.7 321,721.7 321,720.6 322,720.6 322,721.3 323,721.3 323,721.6 324,721.6 324,721.8 325,721.8 325,720.6 326,720.6 326,721.8 327,721.8 327,721.9 328,721.9 328,721.5 329,721.5 329,722.1 330,722.1 330,722.1 331,722.1 331,721.0 332,721.0 332,721.1 333,721.1 333,720.2 334,720.2 334,721.8 335,721.8 335,722.0 336,722.0 336,720.9 337,720.9 337,721.5 338,721.5 338,721.5 339,721.5 339,721.6 340,721.6 340,720.2 341,720.2 341,721.7 342,721.7 342,721.2 343,721.2 343,721.4 344,721.4 344,720.8 345,720.8 345,721.3 346,721.3 346,721.7 347,721.7 347,721.3 348,721.3 348,721.5 349,721.5 349,719.9 350,719.9 350,720.2 351,720.2 351,720.9 352,720.9 352,721.4 353,721.4 353,720.3 354,720.3 354,721.4 355,721.4 355,721.3 356,721.3 356,719.9 357,719.9 357,720.9 358,720.9 358,720.3 359,720.3 359,719.9 360,719.9 360,720.1 361,720.1 361,720.6 362,720.6 362,720.2 363,720.2 363,720.3 364,720.3 364,719.9 365,719.9 365,720.9 366,720.9 366,720.7 367,720.7 367,721.3 368,721.3 368,721.2 369,721.2 369,720.4 370,720.4 370,722.0 371,722.0 371,739 372,739 372,739 373,739 373,739 374,739 374,739 375,739 375,739 376,739 376,739 377,739 377,739 378,739 378,739 379,739 379,739 380,739 380,739 381,739 381,739 382,739 382,739 383,739 383,739 384,739 384,739 385,739 385,739 386,739 386,739 387,739 387,739 388,739 388,739 389,739 389,739 390,739 390,739 391,739 391,739 392,739 392,739 393,739 393,739 394,739 394,739 395,739 395,739 396,739 396,739 397,739 397,739 398,739 398,739 399,739 399,739 400,739 400,739 401,739 401,739 402,739 402,734.7 403,734.7 403,735.3 404,735.3 404,735.1 405,735.1 405,735.4 406,735.4 406,734.9 407,734.9 407,736.0 408,736.0 408,735.3 409,735.3 409,734.8 410,734.8 410,735.7 411,735.7 411,734.9 412,734.9 412,735.6 413,735.6 413,735.2 414,735.2 414,735.6 415,735.6 415,736.2 416,736.2 416,736.0 417,736.0 417,743 418,743 418,735.9 419,735.9 419,736.5 420,736.5 420,736.2 421,736.2 421,735.8 422,735.8 422,735.4 423,735.4 423,736.2 424,736.2 424,736.1 425,736.1 425,736.7 426,736.7 426,736.7 427,736.7 427,736.2 428,736.2 428,735.8 429,735.8 429,736.6 430,736.6 430,735.2 431,735.2 431,735.4 432,735.4 432,736.1 433,736.1 433,736.2 434,736.2 434,735.4 435,735.4 435,736.2 436,736.2 436,736.6 437,736.6 437,735.8 438,735.8 438,735.9 439,735.9 439,735.6 440,735.6 440,735.7 441,735.7 441,736.8 442,736.8 442,744 443,744 443,735.8 444,735.8 444,736.7 445,736.7 445,736.7 446,736.7 446,736.2 447,736.2 447,735.6 448,735.6 448,736.8 449,736.8 449,736.0 450,736.0 450,735.9 451,735.9 451,735.7 452,735.7 452,736.8 453,736.8 453,736.0 454,736.0 454,735.7 455,735.7 455,736.0 456,736.0 456,735.4 457,735.4 457,736.2 458,736.2 458,735.9 459,735.9 459,735.7 460,735.7 460,736.5 461,736.5 461,736.5 462,736.5 462,735.2 463,735.2 463,736.1 464,736.1 464,735.6 465,735.6 465,731 466,731 466,729.6 467,729.6 467,729.0 468,729.0 468,727.1 469,727.1 469,727.2 470,727.2 470,726.8 471,726.8 471,729.8 472,729.8 472,727.3 473,727.3 473,728.4 474,728.4 474,727.9 475,727.9 475,728.5 476,728.5 476,728.4 477,728.4 477,728.9 478,728.9 478,726.6 479,726.6 479,728.9 480,728.9 480,727.3 481,727.3 481,728.1 482,728.1 482,727.4 483,727.4 483,727.3 484,727.3 484,728.1 485,728.1 485,727.9 486,727.9 486,727.5 487,727.5 487,727.4 488,727.4 488,726.8 489,726.8 489,724.8 490,724.8 490,725.6 491,725.6 491,726.3 492,726.3 492,728.0 493,728.0 493,727.9 494,727.9 494,726.7 495,726.7 495,724.8 496,724.8 496,727.5 497,727.5 497,726.2 498,726.2 498,726.8 499,726.8 499,727.2 500,727.2 500,727.0 501,727.0 501,726.4 502,726.4 502,728.0 503,728.0 503,726.1 504,726.1 504,726.1 505,726.1 505,727.8 506,727.8 506,725.4 507,725.4 507,725.8 508,725.8 508,742 509,742 509,724.4 510,724.4 510,722.7 511,722.7 511,725.0 512,725.0 512,724.6 513,724.6 513,723.8 514,723.8 514,723.4 515,723.4 515,724.8 516,724.8 516,725.2 517,725.2 517,722.9 518,722.9 518,723.9 519,723.9 519,724.1 520,724.1 520,724.0 521,724.0 521,723.5 522,723.5 522,723.0 523,723.0 523,724.3 524,724.3 524,724.9 525,724.9 525,735 526,735 526,724 527,724 527,721.5 528,721.5 528,721.7 529,721.7 529,722.4 530,722.4 530,722.4 531,722.4 531,722.2 532,722.2 532,721.4 533,721.4 533,722.3 534,722.3 534,722.6 535,722.6 535,722.6 536,722.6 536,722.2 537,722.2 537,721.5 538,721.5 538,722.4 539,722.4 539,721.7 540,721.7 540,722.2 541,722.2 541,722.5 542,722.5 542,722.3 543,722.3 543,721.6 544,721.6 544,721.8 545,721.8 545,722.5 546,722.5 546,721.6 547,721.6 547,722.1 548,722.1 548,721.9 549,721.9 549,721.6 550,721.6 550,722.1 551,722.1 551,721.5 552,721.5 552,721.5 553,721.5 553,721.9 554,721.9 554,721.5 555,721.5 555,721.5 556,721.5 556,722.1 557,722.1 557,722.3 558,722.3 558,722.5 559,722.5 559,721.6 560,721.6 560,721.9 561,721.9 561,721.8 562,721.8 562,722.1 563,722.1 563,722.0 564,722.0 564,722.5 565,722.5 565,721.8 566,721.8 566,721.5 567,721.5 567,722.2 568,722.2 568,721.6 569,721.6 569,722.2 570,722.2 570,722.0 571,722.0 571,722.5 572,722.5 572,722.1 573,722.1 573,722.1 574,722.1 574,721.7 575,721.7 575,722.1 576,722.1 576,721.7 577,721.7 577,722.3 578,722.3 578,722.0 579,722.0 579,721.6 580,721.6 580,721.7 581,721.7 581,721.8 582,721.8 582,722.3 583,722.3 583,721.6 584,721.6 584,722.3 585,722.3 585,722.2 586,722.2 586,721.5 587,721.5 587,722.2 588,722.2 588,735 589,735 589,727.1 590,727.1 590,727.1 591,727.1 591,727.6 592,727.6 592,727.2 593,727.2 593,727.9 594,727.9 594,727.5 595,727.5 595,727.3 596,727.3 596,727.8 597,727.8 597,727.0 598,727.0 598,727.7 599,727.7 599,727.1 600,727.1 600,727.2 601,727.2 601,728.0 602,728.0 602,727.7 603,727.7 603,727.2 604,727.2 604,727.1 605,727.1 605,728.0 606,728.0 606,727.7 607,727.7 607,727.8 608,727.8 608,727.1 609,727.1 609,727.6 610,727.6 610,727.4 611,727.4 611,727.2 612,727.2 612,727.3 613,727.3 613,727.6 614,727.6 614,727.3 615,727.3 615,727.4 616,727.4 616,727.1 617,727.1 617,727.8 618,727.8 618,727.6 619,727.6 619,727.8 620,727.8 620,727.4 621,727.4 621,727.9 622,727.9 622,727.5 623,727.5 623,727.6 624,727.6 624,727.6 625,727.6 625,727.7 626,727.7 626,727.4 627,727.4 627,727.1 628,727.1 628,727.0 629,727.0 629,742.5 630,742.5 630,742.4 631,742.4 631,742.8 632,742.8 632,742.6 633,742.6 633,742.7 634,742.7 634,742.4 635,742.4 635,742.6 636,742.6 636,742.8 637,742.8 637,742.6 638,742.6 638,746Z" fill="#585858"/><rect x="256" y="742.5" width="1.5" height="3.5" fill="#ddd"/><rect x="190" y="746" width="1" height="15" fill="#d0d0d0"/><text x="193" y="757.2" fill="#ddd" font-size="11.6" font-family="Liberation Sans" textLength="62.5" lengthAdjust="spacingAndGlyphs">05/02/2021</text><rect x="314" y="746" width="1" height="15" fill="#d0d0d0"/><text x="317" y="757.2" fill="#ddd" font-size="11.6" font-family="Liberation Sans" textLength="62.5" lengthAdjust="spacingAndGlyphs">05/03/2021</text><rect x="439" y="746" width="1" height="15" fill="#d0d0d0"/><text x="442" y="757.2" fill="#ddd" font-size="11.6" font-family="Liberation Sans" textLength="62.5" lengthAdjust="spacingAndGlyphs">05/04/2021</text><rect x="563" y="746" width="1" height="15" fill="#d0d0d0"/><text x="566" y="757.2" fill="#ddd" font-size="11.6" font-family="Liberation Sans" textLength="62.5" lengthAdjust="spacingAndGlyphs">05/05/2021</text></svg>
<!-- tooltip -->
<div class="a" style="left:148px;top:253px;width:550px;height:215px;background:#eee;box-shadow:0 2px 6px rgba(0,0,0,.35)">
 <div class="a" style="left:0;top:0;width:550px;height:24px;background:#dcdcdc"></div>
 <svg class="a" style="left:531px;top:5px" width="14" height="14" viewBox="0 0 14 14"><path d="M1.5 1.5L12.5 12.5M12.5 1.5L1.5 12.5" stroke="#111" stroke-width="2"/></svg>
 <div class="a" style="left:12px;top:36px;height:20px;width:64px;background:#ffc800;border-radius:2px"></div>
 <div class="t" style="left:13px;top:38px;font-size:14px;font-weight:bold;-webkit-text-stroke:0;color:#111">9.52 milli</div>
 <div class="t" style="right:12px;top:39px;font-size:12px;color:#555">Number of rows read</div>
 <div class="t" style="left:12px;top:70px;font-size:12px;color:#222">05/02/2021, 12:50 PM PDT</div>
 <div class="t" style="left:12px;top:90px;font-size:12px;color:#222"><span style="color:#555">Table:</span> <span style="font-size:11.7px">SingersByDescSingerId</span></div>
 <div class="t" style="left:12px;top:124px;font-size:12px;color:#555">Key bucket</div>
 <div class="a" style="left:78px;top:123px;width:14px;height:14px;border-radius:50%;background:#555;color:#eee;font-size:11px;font-weight:bold;text-align:center;line-height:14px">?</div>
 <div class="t" style="left:17px;top:149px;font-size:12px;color:#555">Start key: <span style="color:#222">1858180</span></div>
 <div class="t" style="left:17px;top:173px;font-size:12px;color:#555">End key: <span style="color:#222;position:absolute;left:52px">1845980</span></div>
</div>
<!-- right panel -->
<div class="a" style="left:698px;top:41px;width:1px;height:727px;background:#e0e0e0"></div>
<div class="t" style="left:774px;top:12px;font-size:12px;font-weight:bold;-webkit-text-stroke:0;color:#3367d6">METRICS</div>
<div class="t" style="left:991px;top:12px;font-size:12px;font-weight:bold;-webkit-text-stroke:0;color:#616161">HELP</div>
<div class="a" style="left:699px;top:37px;width:390px;height:1px;background:#ddd"></div>
<div class="a" style="left:699px;top:35px;width:206px;height:2px;background:#3367d6"></div>
<div class="t" style="left:981px;top:52px;font-size:12px;font-weight:bold;-webkit-text-stroke:0;color:#202124">EXPAND ALL</div>
<svg class="a" style="left:1066px;top:53px" width="14" height="10" viewBox="0 0 14 10"><path d="M1 1.5L7 7.5L13 1.5" stroke="#202124" stroke-width="2" fill="none"/></svg>
<div class="t" style="left:723px;top:88px;font-size:14px;font-weight:bold;-webkit-text-stroke:0;color:#202124">Information</div>
<div class="a" style="left:711px;top:119px;width:376px;height:135px;background:#f4f4f4"></div>
<div class="a" style="left:711px;top:260px;width:376px;height:489px;background:#f4f4f4"></div>
<div class="a" style="left:711px;top:749px;width:218px;height:4px;background:#f4f4f4"></div>
<div id="rows">
<svg class="a" style="left:721px;top:131px" width="9" height="11" viewBox="0 0 9 11"><path d="M7 1.2L2.5 5.5L7 9.8" stroke="#ccc" stroke-width="2" fill="none"/></svg>
<div class="bd" style="top:129px;background:#ffc800;color:#111">9.52 milli</div>
<div class="t mn" style="top:130px;color:#3367d6">Number of rows read</div>
<svg class="a" style="left:721px;top:156px" width="9" height="11" viewBox="0 0 9 11"><path d="M7 1.2L2.5 5.5L7 9.8" stroke="#111" stroke-width="2" fill="none"/></svg>
<div class="bd" style="top:154px;background:#000;color:#fff">0</div>
<div class="t un" style="top:155px">bytes</div>
<div class="t mn" style="top:155px;">Number of bytes read</div>
<svg class="a" style="left:721px;top:181px" width="9" height="11" viewBox="0 0 9 11"><path d="M7 1.2L2.5 5.5L7 9.8" stroke="#111" stroke-width="2" fill="none"/></svg>
<div class="bd" style="top:179px;background:#000;color:#fff">0</div>
<div class="t mn" style="top:180px;">Number of rows written</div>
<svg class="a" style="left:721px;top:206px" width="9" height="11" viewBox="0 0 9 11"><path d="M7 1.2L2.5 5.5L7 9.8" stroke="#111" stroke-width="2" fill="none"/></svg>
<div class="bd" style="top:204px;background:#000;color:#fff">0</div>
<div class="t un" style="top:205px">bytes</div>
<div class="t mn" style="top:205px;">Number of bytes written</div>
<svg class="a" style="left:721px;top:231px" width="9" height="11" viewBox="0 0 9 11"><path d="M7 1.2L2.5 5.5L7 9.8" stroke="#111" stroke-width="2" fill="none"/></svg>
<div class="bd" style="top:229px;background:#1a0042;color:#fff">83.97</div>
<div class="t un" style="top:230px">nanoseconds</div>
<div class="t mn" style="top:230px;">CPU seconds</div>
<svg class="a" style="left:721px;top:272px" width="9" height="11" viewBox="0 0 9 11"><path d="M7 1.2L2.5 5.5L7 9.8" stroke="#111" stroke-width="2" fill="none"/></svg>
<div class="bd" style="top:270px;background:#700078">24.07</div>
<div class="t un" style="top:271px">bytes</div>
<div class="t mn" style="top:271px;right:41px">Logical stored bytes</div>
<svg class="a" style="left:1059px;top:273px" width="15" height="10" viewBox="0 0 15 10"><path d="M1.5 8.5L7.5 2.5L13.5 8.5" stroke="#111" stroke-width="2.2" fill="none"/></svg>
</div>
<svg class="a" style="left:716px;top:295px" width="367" height="454" viewBox="716 295 367 454" shape-rendering="crispEdges"><rect x="716" y="295" width="367" height="210" fill="#700078"/>
<rect x="746" y="295" width="70" height="7" fill="#7c0074"/>
<rect x="746" y="302" width="70" height="1" fill="#e02828"/>
<rect x="1047" y="295" width="36" height="169" fill="#b4004e"/>
<rect x="716" y="375" width="8" height="130" fill="#000"/>
<rect x="724" y="398" width="22" height="107" fill="#000"/>
<rect x="795" y="418" width="21" height="87" fill="#000"/>
<rect x="816" y="423" width="70" height="82" fill="#000"/>
<rect x="886" y="445" width="32" height="60" fill="#000"/>
<rect x="918" y="453" width="38" height="52" fill="#000"/>
<rect x="956" y="465" width="32" height="40" fill="#000"/>
<rect x="988" y="473" width="13" height="32" fill="#000"/>
<rect x="1001" y="478" width="76" height="27" fill="#000"/>
<rect x="746" y="404" width="49" height="101" fill="#9c005e"/>
<rect x="716" y="505" width="367" height="210" fill="#f87200"/>
<rect x="716" y="635" width="8" height="2" fill="#f87400"/>
<rect x="716" y="637" width="8" height="1" fill="#f87400"/>
<rect x="716" y="638" width="8" height="2" fill="#f57000"/>
<rect x="716" y="640" width="8" height="3" fill="#ffa000"/>
<rect x="716" y="643" width="8" height="2" fill="#ffb000"/>
<rect x="716" y="645" width="8" height="1" fill="#f57000"/>
<rect x="716" y="646" width="8" height="4" fill="#f87400"/>
<rect x="716" y="650" width="8" height="2" fill="#fa7c00"/>
<rect x="716" y="652" width="8" height="1" fill="#fa7c00"/>
<rect x="716" y="653" width="8" height="1" fill="#f87400"/>
<rect x="716" y="654" width="8" height="1" fill="#ffb000"/>
<rect x="716" y="655" width="8" height="3" fill="#f87400"/>
<rect x="716" y="658" width="8" height="1" fill="#ffa000"/>
<rect x="716" y="659" width="8" height="1" fill="#f87400"/>
<rect x="716" y="660" width="8" height="2" fill="#ffa000"/>
<rect x="716" y="662" width="8" height="2" fill="#f87400"/>
<rect x="716" y="664" width="8" height="2" fill="#ffb000"/>
<rect x="716" y="666" width="8" height="2" fill="#ff8c00"/>
<rect x="716" y="668" width="8" height="1" fill="#f87400"/>
<rect x="716" y="669" width="8" height="1" fill="#ffb000"/>
<rect x="716" y="670" width="8" height="1" fill="#ffb000"/>
<rect x="716" y="671" width="8" height="1" fill="#fa7c00"/>
<rect x="716" y="672" width="8" height="3" fill="#ffa000"/>
<rect x="716" y="675" width="8" height="3" fill="#f87400"/>
<rect x="716" y="678" width="8" height="1" fill="#f57000"/>
<rect x="716" y="679" width="8" height="4" fill="#ffa000"/>
<rect x="716" y="683" width="8" height="2" fill="#ffa000"/>
<rect x="716" y="685" width="8" height="3" fill="#ff8c00"/>
<rect x="716" y="688" width="8" height="1" fill="#f87400"/>
<rect x="716" y="689" width="8" height="1" fill="#f87400"/>
<rect x="716" y="690" width="8" height="1" fill="#f87400"/>
<rect x="716" y="691" width="8" height="2" fill="#f57000"/>
<rect x="716" y="693" width="8" height="4" fill="#f87400"/>
<rect x="716" y="697" width="8" height="4" fill="#fa7c00"/>
<rect x="716" y="701" width="8" height="2" fill="#f57000"/>
<rect x="716" y="703" width="8" height="4" fill="#f87400"/>
<rect x="716" y="505" width="8" height="130" fill="#ff9800"/>
<rect x="724" y="612" width="22" height="3" fill="#f87400"/>
<rect x="724" y="615" width="22" height="2" fill="#f87400"/>
<rect x="724" y="617" width="22" height="3" fill="#ffb000"/>
<rect x="724" y="620" width="22" height="1" fill="#ffa000"/>
<rect x="724" y="621" width="22" height="3" fill="#ffb000"/>
<rect x="724" y="624" width="22" height="4" fill="#f87400"/>
<rect x="724" y="628" width="22" height="4" fill="#ffa000"/>
<rect x="724" y="632" width="22" height="1" fill="#f57000"/>
<rect x="724" y="633" width="22" height="4" fill="#f87400"/>
<rect x="724" y="637" width="22" height="1" fill="#f87400"/>
<rect x="724" y="638" width="22" height="2" fill="#f57000"/>
<rect x="724" y="640" width="22" height="3" fill="#ffa000"/>
<rect x="724" y="643" width="22" height="2" fill="#ffb000"/>
<rect x="724" y="645" width="22" height="1" fill="#f57000"/>
<rect x="724" y="646" width="22" height="4" fill="#f87400"/>
<rect x="724" y="650" width="22" height="2" fill="#fa7c00"/>
<rect x="724" y="652" width="22" height="1" fill="#fa7c00"/>
<rect x="724" y="653" width="22" height="1" fill="#f87400"/>
<rect x="724" y="654" width="22" height="1" fill="#ffb000"/>
<rect x="724" y="655" width="22" height="3" fill="#f87400"/>
<rect x="724" y="658" width="22" height="1" fill="#ffa000"/>
<rect x="724" y="659" width="22" height="1" fill="#f87400"/>
<rect x="724" y="660" width="22" height="2" fill="#ffa000"/>
<rect x="724" y="662" width="22" height="2" fill="#f87400"/>
<rect x="724" y="664" width="22" height="2" fill="#ffb000"/>
<rect x="724" y="666" width="22" height="2" fill="#ff8c00"/>
<rect x="724" y="668" width="22" height="1" fill="#f87400"/>
<rect x="724" y="669" width="22" height="1" fill="#ffb000"/>
<rect x="724" y="670" width="22" height="1" fill="#ffb000"/>
<rect x="724" y="671" width="22" height="1" fill="#fa7c00"/>
<rect x="724" y="672" width="22" height="3" fill="#ffa000"/>
<rect x="724" y="675" width="22" height="3" fill="#f87400"/>
<rect x="724" y="678" width="22" height="1" fill="#f57000"/>
<rect x="724" y="679" width="22" height="4" fill="#ffa000"/>
<rect x="724" y="683" width="22" height="2" fill="#ffa000"/>
<rect x="724" y="685" width="22" height="3" fill="#ff8c00"/>
<rect x="724" y="688" width="22" height="1" fill="#f87400"/>
<rect x="724" y="689" width="22" height="1" fill="#f87400"/>
<rect x="724" y="690" width="22" height="1" fill="#f87400"/>
<rect x="724" y="691" width="22" height="2" fill="#f57000"/>
<rect x="724" y="693" width="22" height="4" fill="#f87400"/>
<rect x="724" y="697" width="22" height="4" fill="#fa7c00"/>
<rect x="724" y="701" width="22" height="2" fill="#f57000"/>
<rect x="724" y="703" width="22" height="4" fill="#f87400"/>
<rect x="724" y="505" width="22" height="107" fill="#ffa800"/>
<rect x="746" y="608" width="49" height="1" fill="#f87400"/>
<rect x="746" y="609" width="49" height="1" fill="#f57000"/>
<rect x="746" y="610" width="49" height="1" fill="#fa7c00"/>
<rect x="746" y="611" width="49" height="4" fill="#f87400"/>
<rect x="746" y="615" width="49" height="2" fill="#f87400"/>
<rect x="746" y="617" width="49" height="3" fill="#ffb000"/>
<rect x="746" y="620" width="49" height="1" fill="#ffa000"/>
<rect x="746" y="621" width="49" height="3" fill="#ffb000"/>
<rect x="746" y="624" width="49" height="4" fill="#f87400"/>
<rect x="746" y="628" width="49" height="4" fill="#ffa000"/>
<rect x="746" y="632" width="49" height="1" fill="#f57000"/>
<rect x="746" y="633" width="49" height="4" fill="#f87400"/>
<rect x="746" y="637" width="49" height="1" fill="#f87400"/>
<rect x="746" y="638" width="49" height="2" fill="#f57000"/>
<rect x="746" y="640" width="49" height="3" fill="#ffa000"/>
<rect x="746" y="643" width="49" height="2" fill="#ffb000"/>
<rect x="746" y="645" width="49" height="1" fill="#f57000"/>
<rect x="746" y="646" width="49" height="4" fill="#f87400"/>
<rect x="746" y="650" width="49" height="2" fill="#fa7c00"/>
<rect x="746" y="652" width="49" height="1" fill="#fa7c00"/>
<rect x="746" y="653" width="49" height="1" fill="#f87400"/>
<rect x="746" y="654" width="49" height="1" fill="#ffb000"/>
<rect x="746" y="655" width="49" height="3" fill="#f87400"/>
<rect x="746" y="658" width="49" height="1" fill="#ffa000"/>
<rect x="746" y="659" width="49" height="1" fill="#f87400"/>
<rect x="746" y="660" width="49" height="2" fill="#ffa000"/>
<rect x="746" y="662" width="49" height="2" fill="#f87400"/>
<rect x="746" y="664" width="49" height="2" fill="#ffb000"/>
<rect x="746" y="666" width="49" height="2" fill="#ff8c00"/>
<rect x="746" y="668" width="49" height="1" fill="#f87400"/>
<rect x="746" y="669" width="49" height="1" fill="#ffb000"/>
<rect x="746" y="670" width="49" height="1" fill="#ffb000"/>
<rect x="746" y="671" width="49" height="1" fill="#fa7c00"/>
<rect x="746" y="672" width="49" height="3" fill="#ffa000"/>
<rect x="746" y="675" width="49" height="3" fill="#f87400"/>
<rect x="746" y="678" width="49" height="1" fill="#f57000"/>
<rect x="746" y="679" width="49" height="4" fill="#ffa000"/>
<rect x="746" y="683" width="49" height="2" fill="#ffa000"/>
<rect x="746" y="685" width="49" height="3" fill="#ff8c00"/>
<rect x="746" y="688" width="49" height="1" fill="#f87400"/>
<rect x="746" y="689" width="49" height="1" fill="#f87400"/>
<rect x="746" y="690" width="49" height="1" fill="#f87400"/>
<rect x="746" y="691" width="49" height="2" fill="#f57000"/>
<rect x="746" y="693" width="49" height="4" fill="#f87400"/>
<rect x="746" y="697" width="49" height="4" fill="#fa7c00"/>
<rect x="746" y="701" width="49" height="2" fill="#f57000"/>
<rect x="746" y="703" width="49" height="4" fill="#f87400"/>
<rect x="746" y="505" width="49" height="103" fill="#fd7f00"/>
<rect x="795" y="593" width="21" height="2" fill="#f87400"/>
<rect x="795" y="595" width="21" height="4" fill="#ff8c00"/>
<rect x="795" y="599" width="21" height="2" fill="#fa7c00"/>
<rect x="795" y="601" width="21" height="2" fill="#f57000"/>
<rect x="795" y="603" width="21" height="3" fill="#fa7c00"/>
<rect x="795" y="606" width="21" height="1" fill="#f87400"/>
<rect x="795" y="607" width="21" height="2" fill="#f87400"/>
<rect x="795" y="609" width="21" height="1" fill="#f57000"/>
<rect x="795" y="610" width="21" height="1" fill="#fa7c00"/>
<rect x="795" y="611" width="21" height="4" fill="#f87400"/>
<rect x="795" y="615" width="21" height="2" fill="#f87400"/>
<rect x="795" y="617" width="21" height="3" fill="#ffb000"/>
<rect x="795" y="620" width="21" height="1" fill="#ffa000"/>
<rect x="795" y="621" width="21" height="3" fill="#ffb000"/>
<rect x="795" y="624" width="21" height="4" fill="#f87400"/>
<rect x="795" y="628" width="21" height="4" fill="#ffa000"/>
<rect x="795" y="632" width="21" height="1" fill="#f57000"/>
<rect x="795" y="633" width="21" height="4" fill="#f87400"/>
<rect x="795" y="637" width="21" height="1" fill="#f87400"/>
<rect x="795" y="638" width="21" height="2" fill="#f57000"/>
<rect x="795" y="640" width="21" height="3" fill="#ffa000"/>
<rect x="795" y="643" width="21" height="2" fill="#ffb000"/>
<rect x="795" y="645" width="21" height="1" fill="#f57000"/>
<rect x="795" y="646" width="21" height="4" fill="#f87400"/>
<rect x="795" y="650" width="21" height="2" fill="#fa7c00"/>
<rect x="795" y="652" width="21" height="1" fill="#fa7c00"/>
<rect x="795" y="653" width="21" height="1" fill="#f87400"/>
<rect x="795" y="654" width="21" height="1" fill="#ffb000"/>
<rect x="795" y="655" width="21" height="3" fill="#f87400"/>
<rect x="795" y="658" width="21" height="1" fill="#ffa000"/>
<rect x="795" y="659" width="21" height="1" fill="#f87400"/>
<rect x="795" y="660" width="21" height="2" fill="#ffa000"/>
<rect x="795" y="662" width="21" height="2" fill="#f87400"/>
<rect x="795" y="664" width="21" height="2" fill="#ffb000"/>
<rect x="795" y="666" width="21" height="2" fill="#ff8c00"/>
<rect x="795" y="668" width="21" height="1" fill="#f87400"/>
<rect x="795" y="669" width="21" height="1" fill="#ffb000"/>
<rect x="795" y="670" width="21" height="1" fill="#ffb000"/>
<rect x="795" y="671" width="21" height="1" fill="#fa7c00"/>
<rect x="795" y="672" width="21" height="3" fill="#ffa000"/>
<rect x="795" y="675" width="21" height="3" fill="#f87400"/>
<rect x="795" y="678" width="21" height="1" fill="#f57000"/>
<rect x="795" y="679" width="21" height="4" fill="#ffa000"/>
<rect x="795" y="683" width="21" height="2" fill="#ffa000"/>
<rect x="795" y="685" width="21" height="3" fill="#ff8c00"/>
<rect x="795" y="688" width="21" height="1" fill="#f87400"/>
<rect x="795" y="689" width="21" height="1" fill="#f87400"/>
<rect x="795" y="690" width="21" height="1" fill="#f87400"/>
<rect x="795" y="691" width="21" height="2" fill="#f57000"/>
<rect x="795" y="693" width="21" height="4" fill="#f87400"/>
<rect x="795" y="697" width="21" height="4" fill="#fa7c00"/>
<rect x="795" y="701" width="21" height="2" fill="#f57000"/>
<rect x="795" y="703" width="21" height="4" fill="#f87400"/>
<rect x="795" y="505" width="21" height="88" fill="#fb7800"/>
<rect x="716" y="707" width="101" height="8" fill="#ffc600"/>
<rect x="816" y="505" width="12" height="85" fill="#ffc600"/>
<rect x="816" y="590" width="12" height="1" fill="#f87400"/>
<rect x="816" y="591" width="12" height="4" fill="#f87400"/>
<rect x="816" y="595" width="12" height="4" fill="#ff8c00"/>
<rect x="816" y="599" width="12" height="2" fill="#fa7c00"/>
<rect x="816" y="601" width="12" height="2" fill="#f57000"/>
<rect x="816" y="603" width="12" height="3" fill="#fa7c00"/>
<rect x="816" y="606" width="12" height="1" fill="#f87400"/>
<rect x="816" y="607" width="12" height="2" fill="#f87400"/>
<rect x="816" y="609" width="12" height="1" fill="#f57000"/>
<rect x="816" y="610" width="12" height="1" fill="#fa7c00"/>
<rect x="816" y="611" width="12" height="4" fill="#f87400"/>
<rect x="816" y="615" width="12" height="2" fill="#f87400"/>
<rect x="816" y="617" width="12" height="3" fill="#ffb000"/>
<rect x="816" y="620" width="12" height="1" fill="#ffa000"/>
<rect x="816" y="621" width="12" height="3" fill="#ffb000"/>
<rect x="816" y="624" width="12" height="4" fill="#f87400"/>
<rect x="816" y="628" width="12" height="4" fill="#ffa000"/>
<rect x="816" y="632" width="12" height="1" fill="#f57000"/>
<rect x="816" y="633" width="12" height="4" fill="#f87400"/>
<rect x="816" y="637" width="12" height="1" fill="#f87400"/>
<rect x="816" y="638" width="12" height="2" fill="#f57000"/>
<rect x="816" y="640" width="12" height="3" fill="#ffa000"/>
<rect x="816" y="643" width="12" height="2" fill="#ffb000"/>
<rect x="816" y="645" width="12" height="1" fill="#f57000"/>
<rect x="816" y="646" width="12" height="4" fill="#f87400"/>
<rect x="816" y="650" width="12" height="2" fill="#fa7c00"/>
<rect x="816" y="652" width="12" height="1" fill="#fa7c00"/>
<rect x="816" y="653" width="12" height="1" fill="#f87400"/>
<rect x="816" y="654" width="12" height="1" fill="#ffb000"/>
<rect x="816" y="655" width="12" height="3" fill="#f87400"/>
<rect x="816" y="658" width="12" height="1" fill="#ffa000"/>
<rect x="816" y="659" width="12" height="1" fill="#f87400"/>
<rect x="816" y="660" width="12" height="2" fill="#ffa000"/>
<rect x="816" y="662" width="12" height="2" fill="#f87400"/>
<rect x="816" y="664" width="12" height="2" fill="#ffb000"/>
<rect x="816" y="666" width="12" height="2" fill="#ff8c00"/>
<rect x="816" y="668" width="12" height="1" fill="#f87400"/>
<rect x="816" y="669" width="12" height="1" fill="#ffb000"/>
<rect x="816" y="670" width="12" height="1" fill="#ffb000"/>
<rect x="816" y="671" width="12" height="1" fill="#fa7c00"/>
<rect x="816" y="672" width="12" height="3" fill="#ffa000"/>
<rect x="816" y="675" width="12" height="3" fill="#f87400"/>
<rect x="816" y="678" width="12" height="1" fill="#f57000"/>
<rect x="816" y="679" width="12" height="4" fill="#ffa000"/>
<rect x="816" y="683" width="12" height="2" fill="#ffa000"/>
<rect x="816" y="685" width="12" height="3" fill="#ff8c00"/>
<rect x="816" y="688" width="12" height="1" fill="#f87400"/>
<rect x="816" y="689" width="12" height="1" fill="#f87400"/>
<rect x="816" y="690" width="12" height="1" fill="#f87400"/>
<rect x="816" y="691" width="12" height="2" fill="#f57000"/>
<rect x="816" y="693" width="12" height="4" fill="#f87400"/>
<rect x="816" y="697" width="12" height="4" fill="#fa7c00"/>
<rect x="816" y="701" width="12" height="2" fill="#f57000"/>
<rect x="816" y="703" width="12" height="4" fill="#f87400"/>
<rect x="828" y="505" width="58" height="83" fill="#ffc600"/>
<rect x="828" y="588" width="58" height="53" fill="#f87000"/>
<rect x="847" y="641" width="63" height="74" fill="#ffd000"/>
<rect x="828" y="641" width="19" height="74" fill="#f47000"/>
<rect x="886" y="505" width="23" height="61" fill="#fd8000"/>
<rect x="909" y="505" width="9" height="61" fill="#ff8c00"/>
<rect x="886" y="566" width="32" height="2" fill="#f57000"/>
<rect x="886" y="568" width="32" height="2" fill="#ffa000"/>
<rect x="886" y="570" width="32" height="3" fill="#f57000"/>
<rect x="886" y="573" width="32" height="1" fill="#fa7a00"/>
<rect x="886" y="574" width="32" height="3" fill="#ffa000"/>
<rect x="886" y="577" width="32" height="3" fill="#fa7a00"/>
<rect x="886" y="580" width="32" height="1" fill="#ffa000"/>
<rect x="886" y="581" width="32" height="2" fill="#fa7a00"/>
<rect x="886" y="583" width="32" height="1" fill="#f57000"/>
<rect x="886" y="584" width="32" height="1" fill="#f57000"/>
<rect x="886" y="585" width="32" height="2" fill="#ffa000"/>
<rect x="886" y="587" width="32" height="3" fill="#ffb000"/>
<rect x="886" y="590" width="32" height="1" fill="#f57000"/>
<rect x="886" y="591" width="32" height="1" fill="#f57000"/>
<rect x="886" y="592" width="32" height="1" fill="#f87400"/>
<rect x="886" y="593" width="32" height="1" fill="#fa7a00"/>
<rect x="886" y="594" width="32" height="1" fill="#f57000"/>
<rect x="886" y="595" width="32" height="1" fill="#ffa000"/>
<rect x="886" y="596" width="32" height="2" fill="#ffa000"/>
<rect x="886" y="598" width="32" height="3" fill="#fa7a00"/>
<rect x="886" y="601" width="32" height="3" fill="#fa7a00"/>
<rect x="886" y="604" width="32" height="2" fill="#ffa000"/>
<rect x="886" y="606" width="32" height="1" fill="#ffb000"/>
<rect x="886" y="607" width="32" height="1" fill="#ffa000"/>
<rect x="886" y="608" width="32" height="2" fill="#ffa000"/>
<rect x="886" y="610" width="32" height="3" fill="#f87400"/>
<rect x="886" y="613" width="32" height="2" fill="#ff8800"/>
<rect x="886" y="615" width="32" height="1" fill="#f57000"/>
<rect x="886" y="616" width="32" height="2" fill="#f87400"/>
<rect x="886" y="618" width="32" height="1" fill="#f57000"/>
<rect x="886" y="619" width="32" height="1" fill="#ffa000"/>
<rect x="886" y="620" width="32" height="1" fill="#ff8800"/>
<rect x="886" y="621" width="32" height="2" fill="#f87400"/>
<rect x="886" y="623" width="32" height="1" fill="#ffb000"/>
<rect x="886" y="624" width="32" height="1" fill="#fa7a00"/>
<rect x="886" y="625" width="32" height="1" fill="#f87400"/>
<rect x="886" y="626" width="32" height="2" fill="#ffa000"/>
<rect x="886" y="628" width="32" height="2" fill="#ffa000"/>
<rect x="886" y="630" width="32" height="1" fill="#f57000"/>
<rect x="886" y="631" width="32" height="1" fill="#ffb000"/>
<rect x="886" y="632" width="32" height="2" fill="#ff8800"/>
<rect x="886" y="634" width="32" height="1" fill="#ff8800"/>
<rect x="886" y="635" width="32" height="2" fill="#f87400"/>
<rect x="886" y="637" width="32" height="2" fill="#f87400"/>
<rect x="886" y="639" width="32" height="1" fill="#fa7a00"/>
<rect x="886" y="640" width="32" height="1" fill="#f87400"/>
<rect x="910" y="641" width="8" height="1" fill="#ffa000"/>
<rect x="910" y="642" width="8" height="2" fill="#fa7a00"/>
<rect x="910" y="644" width="8" height="3" fill="#fa7a00"/>
<rect x="910" y="647" width="8" height="2" fill="#f57000"/>
<rect x="910" y="649" width="8" height="1" fill="#ffb000"/>
<rect x="910" y="650" width="8" height="1" fill="#ffa000"/>
<rect x="910" y="651" width="8" height="2" fill="#f87400"/>
<rect x="910" y="653" width="8" height="2" fill="#ffa000"/>
<rect x="910" y="655" width="8" height="1" fill="#f87400"/>
<rect x="910" y="656" width="8" height="2" fill="#f57000"/>
<rect x="910" y="658" width="8" height="2" fill="#f87400"/>
<rect x="910" y="660" width="8" height="1" fill="#fa7a00"/>
<rect x="910" y="661" width="8" height="2" fill="#f57000"/>
<rect x="910" y="663" width="8" height="3" fill="#f87400"/>
<rect x="910" y="666" width="8" height="1" fill="#fa7a00"/>
<rect x="910" y="667" width="8" height="1" fill="#ffa000"/>
<rect x="910" y="668" width="8" height="2" fill="#f87400"/>
<rect x="910" y="670" width="8" height="3" fill="#ff8800"/>
<rect x="910" y="673" width="8" height="2" fill="#ffa000"/>
<rect x="910" y="675" width="8" height="1" fill="#f87400"/>
<rect x="910" y="676" width="8" height="1" fill="#fa7a00"/>
<rect x="910" y="677" width="8" height="3" fill="#ffb000"/>
<rect x="910" y="680" width="8" height="1" fill="#f87400"/>
<rect x="910" y="681" width="8" height="3" fill="#ff8800"/>
<rect x="910" y="684" width="8" height="2" fill="#f57000"/>
<rect x="910" y="686" width="8" height="2" fill="#fa7a00"/>
<rect x="910" y="688" width="8" height="3" fill="#ffa000"/>
<rect x="910" y="691" width="8" height="3" fill="#fa7a00"/>
<rect x="910" y="694" width="8" height="2" fill="#fa7a00"/>
<rect x="910" y="696" width="8" height="1" fill="#ff8800"/>
<rect x="910" y="697" width="8" height="1" fill="#f57000"/>
<rect x="910" y="698" width="8" height="1" fill="#ffb000"/>
<rect x="910" y="699" width="8" height="1" fill="#fa7a00"/>
<rect x="910" y="700" width="8" height="3" fill="#fa7a00"/>
<rect x="910" y="703" width="8" height="2" fill="#ffa000"/>
<rect x="910" y="705" width="8" height="3" fill="#f87400"/>
<rect x="910" y="708" width="8" height="2" fill="#f87400"/>
<rect x="910" y="710" width="8" height="1" fill="#f87400"/>
<rect x="910" y="711" width="8" height="1" fill="#f57000"/>
<rect x="910" y="712" width="8" height="2" fill="#fa7a00"/>
<rect x="910" y="714" width="8" height="1" fill="#ff8800"/>
<rect x="918" y="505" width="38" height="65" fill="#f57000"/>
<rect x="918" y="570" width="38" height="2" fill="#ffa000"/>
<rect x="918" y="572" width="38" height="2" fill="#f57000"/>
<rect x="918" y="574" width="38" height="3" fill="#f87400"/>
<rect x="918" y="577" width="38" height="1" fill="#f87400"/>
<rect x="918" y="578" width="38" height="1" fill="#ff8800"/>
<rect x="918" y="579" width="38" height="3" fill="#ffa000"/>
<rect x="918" y="582" width="38" height="3" fill="#f57000"/>
<rect x="918" y="585" width="38" height="2" fill="#f87400"/>
<rect x="918" y="587" width="38" height="1" fill="#f57000"/>
<rect x="918" y="588" width="38" height="1" fill="#f57000"/>
<rect x="918" y="589" width="38" height="2" fill="#ff8800"/>
<rect x="918" y="591" width="38" height="1" fill="#f57000"/>
<rect x="918" y="592" width="38" height="1" fill="#f87400"/>
<rect x="918" y="593" width="38" height="2" fill="#f57000"/>
<rect x="918" y="595" width="38" height="3" fill="#ffa000"/>
<rect x="918" y="598" width="38" height="1" fill="#f57000"/>
<rect x="918" y="599" width="38" height="2" fill="#f87400"/>
<rect x="918" y="601" width="38" height="2" fill="#f57000"/>
<rect x="918" y="603" width="38" height="3" fill="#ffa000"/>
<rect x="918" y="606" width="38" height="1" fill="#ffa000"/>
<rect x="918" y="607" width="38" height="1" fill="#f57000"/>
<rect x="918" y="608" width="38" height="2" fill="#f57000"/>
<rect x="918" y="610" width="38" height="2" fill="#f57000"/>
<rect x="918" y="612" width="38" height="1" fill="#ffa000"/>
<rect x="918" y="613" width="38" height="1" fill="#ff8800"/>
<rect x="918" y="614" width="38" height="1" fill="#f57000"/>
<rect x="918" y="615" width="38" height="2" fill="#f87400"/>
<rect x="918" y="617" width="38" height="1" fill="#f57000"/>
<rect x="918" y="618" width="38" height="2" fill="#ffa000"/>
<rect x="918" y="620" width="38" height="2" fill="#f57000"/>
<rect x="918" y="622" width="38" height="1" fill="#f57000"/>
<rect x="918" y="623" width="38" height="2" fill="#f57000"/>
<rect x="918" y="625" width="38" height="2" fill="#f57000"/>
<rect x="918" y="627" width="38" height="2" fill="#f57000"/>
<rect x="918" y="629" width="38" height="2" fill="#ffa000"/>
<rect x="918" y="631" width="38" height="1" fill="#ffa000"/>
<rect x="918" y="632" width="38" height="2" fill="#ff8800"/>
<rect x="918" y="634" width="38" height="3" fill="#f57000"/>
<rect x="918" y="637" width="38" height="3" fill="#f57000"/>
<rect x="918" y="640" width="38" height="1" fill="#f57000"/>
<rect x="918" y="641" width="38" height="1" fill="#f57000"/>
<rect x="918" y="642" width="38" height="2" fill="#f57000"/>
<rect x="918" y="644" width="38" height="2" fill="#ffa000"/>
<rect x="918" y="646" width="38" height="2" fill="#ff8800"/>
<rect x="918" y="648" width="38" height="2" fill="#ffa000"/>
<rect x="918" y="650" width="38" height="1" fill="#ffa000"/>
<rect x="918" y="651" width="38" height="3" fill="#f57000"/>
<rect x="918" y="654" width="38" height="2" fill="#ffa000"/>
<rect x="918" y="656" width="38" height="1" fill="#ff8800"/>
<rect x="918" y="657" width="38" height="1" fill="#f87400"/>
<rect x="918" y="658" width="38" height="1" fill="#ff8800"/>
<rect x="918" y="659" width="38" height="3" fill="#ff8800"/>
<rect x="918" y="662" width="38" height="2" fill="#f57000"/>
<rect x="918" y="664" width="38" height="2" fill="#f57000"/>
<rect x="918" y="666" width="38" height="1" fill="#ffa000"/>
<rect x="918" y="667" width="38" height="1" fill="#ffa000"/>
<rect x="918" y="668" width="38" height="1" fill="#f57000"/>
<rect x="918" y="669" width="38" height="2" fill="#ff8800"/>
<rect x="918" y="671" width="38" height="1" fill="#f57000"/>
<rect x="918" y="672" width="38" height="2" fill="#f57000"/>
<rect x="918" y="674" width="38" height="1" fill="#ff8800"/>
<rect x="918" y="675" width="38" height="1" fill="#f87400"/>
<rect x="918" y="676" width="38" height="2" fill="#f87400"/>
<rect x="918" y="678" width="38" height="3" fill="#f57000"/>
<rect x="918" y="681" width="38" height="1" fill="#f87400"/>
<rect x="918" y="682" width="38" height="1" fill="#ff8800"/>
<rect x="918" y="683" width="38" height="2" fill="#f57000"/>
<rect x="918" y="685" width="38" height="1" fill="#f57000"/>
<rect x="918" y="686" width="38" height="1" fill="#f57000"/>
<rect x="918" y="687" width="38" height="2" fill="#ff8800"/>
<rect x="918" y="689" width="38" height="2" fill="#f87400"/>
<rect x="918" y="691" width="38" height="2" fill="#ff8800"/>
<rect x="918" y="693" width="38" height="3" fill="#ff8800"/>
<rect x="918" y="696" width="38" height="2" fill="#ffa000"/>
<rect x="918" y="698" width="38" height="2" fill="#f57000"/>
<rect x="918" y="700" width="38" height="1" fill="#f57000"/>
<rect x="918" y="701" width="38" height="2" fill="#ffa000"/>
<rect x="918" y="703" width="38" height="1" fill="#f57000"/>
<rect x="918" y="704" width="38" height="3" fill="#f57000"/>
<rect x="918" y="707" width="38" height="2" fill="#ffa000"/>
<rect x="918" y="709" width="38" height="1" fill="#f87400"/>
<rect x="918" y="710" width="38" height="2" fill="#ff8800"/>
<rect x="918" y="712" width="38" height="1" fill="#f57000"/>
<rect x="918" y="713" width="38" height="2" fill="#f87400"/>
<rect x="956" y="505" width="32" height="43" fill="#f87000"/>
<rect x="988" y="505" width="13" height="40" fill="#ff8000"/>
<rect x="956" y="548" width="45" height="1" fill="#ff7a00"/>
<rect x="956" y="549" width="45" height="1" fill="#ffb000"/>
<rect x="956" y="550" width="45" height="1" fill="#ff9c00"/>
<rect x="956" y="551" width="45" height="1" fill="#ffb000"/>
<rect x="956" y="552" width="45" height="3" fill="#ffb000"/>
<rect x="956" y="555" width="45" height="2" fill="#f57000"/>
<rect x="956" y="557" width="45" height="1" fill="#f87400"/>
<rect x="956" y="558" width="45" height="2" fill="#ff8000"/>
<rect x="956" y="560" width="45" height="1" fill="#ffb000"/>
<rect x="956" y="561" width="45" height="1" fill="#ff7a00"/>
<rect x="956" y="562" width="45" height="2" fill="#ffc000"/>
<rect x="956" y="564" width="45" height="1" fill="#f87400"/>
<rect x="956" y="565" width="45" height="1" fill="#ff8000"/>
<rect x="956" y="566" width="45" height="2" fill="#ffc000"/>
<rect x="956" y="568" width="45" height="3" fill="#ffc000"/>
<rect x="956" y="571" width="45" height="3" fill="#ff7a00"/>
<rect x="956" y="574" width="45" height="1" fill="#ff9c00"/>
<rect x="956" y="575" width="45" height="1" fill="#f57000"/>
<rect x="956" y="576" width="45" height="2" fill="#ffb000"/>
<rect x="956" y="578" width="45" height="2" fill="#f87400"/>
<rect x="956" y="580" width="45" height="2" fill="#ff9c00"/>
<rect x="956" y="582" width="45" height="1" fill="#ffb000"/>
<rect x="956" y="583" width="45" height="1" fill="#ff9c00"/>
<rect x="956" y="584" width="45" height="3" fill="#ffc000"/>
<rect x="956" y="587" width="45" height="3" fill="#ff7a00"/>
<rect x="956" y="590" width="45" height="2" fill="#ff9c00"/>
<rect x="956" y="592" width="45" height="2" fill="#ffb000"/>
<rect x="956" y="594" width="45" height="1" fill="#f57000"/>
<rect x="956" y="595" width="45" height="1" fill="#f87400"/>
<rect x="956" y="596" width="45" height="1" fill="#ff9c00"/>
<rect x="956" y="597" width="45" height="1" fill="#ff8000"/>
<rect x="956" y="598" width="45" height="3" fill="#ff7a00"/>
<rect x="956" y="601" width="45" height="2" fill="#ff8000"/>
<rect x="956" y="603" width="45" height="1" fill="#ff8000"/>
<rect x="956" y="604" width="45" height="3" fill="#f57000"/>
<rect x="956" y="607" width="45" height="1" fill="#ff9c00"/>
<rect x="956" y="608" width="45" height="2" fill="#ffc000"/>
<rect x="956" y="610" width="45" height="2" fill="#ff7a00"/>
<rect x="956" y="612" width="45" height="2" fill="#ff9c00"/>
<rect x="956" y="614" width="45" height="1" fill="#f87400"/>
<rect x="956" y="615" width="45" height="1" fill="#ff9c00"/>
<rect x="956" y="616" width="45" height="1" fill="#f87400"/>
<rect x="956" y="617" width="45" height="3" fill="#ff8000"/>
<rect x="956" y="620" width="45" height="1" fill="#ff9c00"/>
<rect x="956" y="621" width="45" height="1" fill="#ffc000"/>
<rect x="956" y="622" width="45" height="3" fill="#ff7a00"/>
<rect x="956" y="625" width="45" height="2" fill="#ff9c00"/>
<rect x="956" y="627" width="45" height="3" fill="#ffb000"/>
<rect x="956" y="630" width="45" height="1" fill="#ff7a00"/>
<rect x="956" y="631" width="45" height="1" fill="#ff9c00"/>
<rect x="956" y="632" width="45" height="3" fill="#ffc000"/>
<rect x="956" y="635" width="45" height="2" fill="#ff7a00"/>
<rect x="956" y="637" width="45" height="3" fill="#ffb000"/>
<rect x="956" y="640" width="45" height="1" fill="#ffc000"/>
<rect x="1001" y="505" width="46" height="32" fill="#ffc600"/>
<rect x="1001" y="537" width="46" height="3" fill="#ff7a00"/>
<rect x="1001" y="540" width="46" height="3" fill="#ff8000"/>
<rect x="1001" y="543" width="46" height="2" fill="#ffb000"/>
<rect x="1001" y="545" width="46" height="2" fill="#ff7a00"/>
<rect x="1001" y="547" width="46" height="3" fill="#f87400"/>
<rect x="1001" y="550" width="46" height="2" fill="#ff7a00"/>
<rect x="1001" y="552" width="46" height="1" fill="#ffc000"/>
<rect x="1001" y="553" width="46" height="3" fill="#ff8000"/>
<rect x="1001" y="556" width="46" height="3" fill="#ff9c00"/>
<rect x="1001" y="559" width="46" height="1" fill="#ff9c00"/>
<rect x="1001" y="560" width="46" height="3" fill="#f57000"/>
<rect x="1001" y="563" width="46" height="3" fill="#f57000"/>
<rect x="1001" y="566" width="46" height="3" fill="#ff9c00"/>
<rect x="1001" y="569" width="46" height="1" fill="#ffc000"/>
<rect x="1001" y="570" width="46" height="1" fill="#ffc000"/>
<rect x="1001" y="571" width="46" height="2" fill="#ffc000"/>
<rect x="1001" y="573" width="46" height="3" fill="#f57000"/>
<rect x="1001" y="576" width="46" height="2" fill="#f57000"/>
<rect x="1001" y="578" width="46" height="1" fill="#f57000"/>
<rect x="1001" y="579" width="46" height="3" fill="#ff9c00"/>
<rect x="1001" y="582" width="46" height="2" fill="#ff7a00"/>
<rect x="1001" y="584" width="46" height="2" fill="#ff8000"/>
<rect x="1001" y="586" width="46" height="1" fill="#ff9c00"/>
<rect x="1001" y="587" width="46" height="2" fill="#f87400"/>
<rect x="1001" y="589" width="46" height="2" fill="#ff9c00"/>
<rect x="1001" y="591" width="46" height="2" fill="#ffc000"/>
<rect x="1001" y="593" width="46" height="2" fill="#f57000"/>
<rect x="1001" y="595" width="46" height="1" fill="#ff9c00"/>
<rect x="1001" y="596" width="46" height="3" fill="#f57000"/>
<rect x="1001" y="599" width="46" height="2" fill="#f87400"/>
<rect x="1001" y="601" width="46" height="1" fill="#f57000"/>
<rect x="1001" y="602" width="46" height="1" fill="#f87400"/>
<rect x="1001" y="603" width="46" height="1" fill="#f57000"/>
<rect x="1001" y="604" width="46" height="2" fill="#ff8000"/>
<rect x="1001" y="606" width="46" height="2" fill="#f87400"/>
<rect x="1001" y="608" width="46" height="3" fill="#ff9c00"/>
<rect x="1001" y="611" width="46" height="1" fill="#ff9c00"/>
<rect x="1001" y="612" width="46" height="3" fill="#f57000"/>
<rect x="1001" y="615" width="46" height="3" fill="#ffc000"/>
<rect x="1001" y="618" width="46" height="2" fill="#ffb000"/>
<rect x="1001" y="620" width="46" height="1" fill="#ffb000"/>
<rect x="1001" y="621" width="46" height="3" fill="#ff9c00"/>
<rect x="1001" y="624" width="46" height="1" fill="#ff9c00"/>
<rect x="1001" y="625" width="46" height="2" fill="#ff7a00"/>
<rect x="1001" y="627" width="46" height="3" fill="#ffc000"/>
<rect x="1001" y="630" width="46" height="1" fill="#ffc000"/>
<rect x="1001" y="631" width="46" height="1" fill="#ff7a00"/>
<rect x="1001" y="632" width="46" height="3" fill="#ffb000"/>
<rect x="1001" y="635" width="46" height="1" fill="#ffc000"/>
<rect x="1001" y="636" width="46" height="1" fill="#ff7a00"/>
<rect x="1001" y="637" width="46" height="3" fill="#ffc000"/>
<rect x="1001" y="640" width="46" height="1" fill="#ff7a00"/>
<rect x="956" y="641" width="91" height="1" fill="#ffc000"/>
<rect x="956" y="642" width="91" height="2" fill="#ffc000"/>
<rect x="956" y="644" width="91" height="2" fill="#ffd000"/>
<rect x="956" y="646" width="91" height="2" fill="#ffc000"/>
<rect x="956" y="648" width="91" height="1" fill="#ffc000"/>
<rect x="956" y="649" width="91" height="1" fill="#ffc000"/>
<rect x="956" y="650" width="91" height="1" fill="#ffc000"/>
<rect x="956" y="651" width="91" height="1" fill="#ff9000"/>
<rect x="956" y="652" width="91" height="2" fill="#ffb000"/>
<rect x="956" y="654" width="91" height="2" fill="#f87400"/>
<rect x="956" y="656" width="91" height="3" fill="#ffc000"/>
<rect x="956" y="659" width="91" height="1" fill="#f87400"/>
<rect x="956" y="660" width="91" height="1" fill="#ffb000"/>
<rect x="956" y="661" width="91" height="1" fill="#ffd000"/>
<rect x="956" y="662" width="91" height="2" fill="#ff9000"/>
<rect x="956" y="664" width="91" height="1" fill="#ffd000"/>
<rect x="956" y="665" width="91" height="2" fill="#ffd000"/>
<rect x="956" y="667" width="91" height="1" fill="#ffb000"/>
<rect x="956" y="668" width="91" height="2" fill="#ffb000"/>
<rect x="956" y="670" width="91" height="1" fill="#ffb000"/>
<rect x="956" y="671" width="91" height="3" fill="#ffd000"/>
<rect x="956" y="674" width="91" height="3" fill="#ffd000"/>
<rect x="956" y="677" width="91" height="2" fill="#ffc000"/>
<rect x="956" y="679" width="91" height="1" fill="#ffc000"/>
<rect x="956" y="680" width="91" height="1" fill="#ffc000"/>
<rect x="956" y="681" width="91" height="1" fill="#ffc000"/>
<rect x="956" y="682" width="91" height="2" fill="#ffb000"/>
<rect x="956" y="684" width="91" height="3" fill="#ffb000"/>
<rect x="956" y="687" width="91" height="1" fill="#f87400"/>
<rect x="956" y="688" width="91" height="1" fill="#ffb000"/>
<rect x="956" y="689" width="91" height="2" fill="#f87400"/>
<rect x="956" y="691" width="91" height="2" fill="#f87400"/>
<rect x="956" y="693" width="91" height="3" fill="#ff9000"/>
<rect x="956" y="696" width="91" height="2" fill="#ffc000"/>
<rect x="956" y="698" width="91" height="3" fill="#ff9000"/>
<rect x="956" y="701" width="91" height="1" fill="#ffb000"/>
<rect x="956" y="702" width="91" height="1" fill="#ffc000"/>
<rect x="956" y="703" width="91" height="2" fill="#f87400"/>
<rect x="956" y="705" width="91" height="2" fill="#ff9000"/>
<rect x="956" y="707" width="91" height="2" fill="#ffc000"/>
<rect x="956" y="709" width="91" height="3" fill="#ffc000"/>
<rect x="956" y="712" width="91" height="1" fill="#ffd000"/>
<rect x="956" y="713" width="91" height="1" fill="#ff9000"/>
<rect x="956" y="714" width="91" height="1" fill="#f87400"/>
<rect x="1047" y="505" width="30" height="41" fill="#ff8c00"/>
<rect x="1047" y="546" width="30" height="95" fill="#000"/>
<rect x="1077" y="546" width="6" height="95" fill="#3c0070"/>
<rect x="1077" y="505" width="6" height="41" fill="#ff9000"/>
<rect x="1047" y="641" width="36" height="97" fill="#f57000"/>
<rect x="716" y="715" width="331" height="11" fill="#9c0064"/>
<rect x="716" y="726" width="331" height="12" fill="#ffae00"/>
<rect x="716" y="738" width="131" height="11" fill="#e42000"/>
<rect x="847" y="738" width="63" height="11" fill="#ffd000"/>
<rect x="910" y="738" width="137" height="3" fill="#e83000"/>
<rect x="910" y="741" width="137" height="3" fill="#ffa000"/>
<rect x="910" y="744" width="137" height="2" fill="#ffa000"/>
<rect x="910" y="746" width="137" height="1" fill="#e83000"/>
<rect x="910" y="747" width="137" height="2" fill="#e83000"/>
<rect x="1047" y="738" width="36" height="11" fill="#e62000"/></svg>
<svg class="a" style="left:0;top:0" width="1089" height="768" viewBox="0 0 1089 768"><rect x="794.00" y="406.00" width="5.70" height="2.80" rx="0.6" fill="#000"/><rect x="803.10" y="406.00" width="5.70" height="2.80" rx="0.6" fill="#000"/><rect x="800.00" y="400.00" width="2.80" height="5.70" rx="0.6" fill="#000"/><rect x="800.00" y="409.10" width="2.80" height="5.70" rx="0.6" fill="#000"/><rect x="795.00" y="406.80" width="3.70" height="1.20" fill="#fff"/><rect x="804.10" y="406.80" width="3.70" height="1.20" fill="#fff"/><rect x="800.80" y="401.00" width="1.20" height="3.70" fill="#fff"/><rect x="800.80" y="410.10" width="1.20" height="3.70" fill="#fff"/></svg>
</body></html>
